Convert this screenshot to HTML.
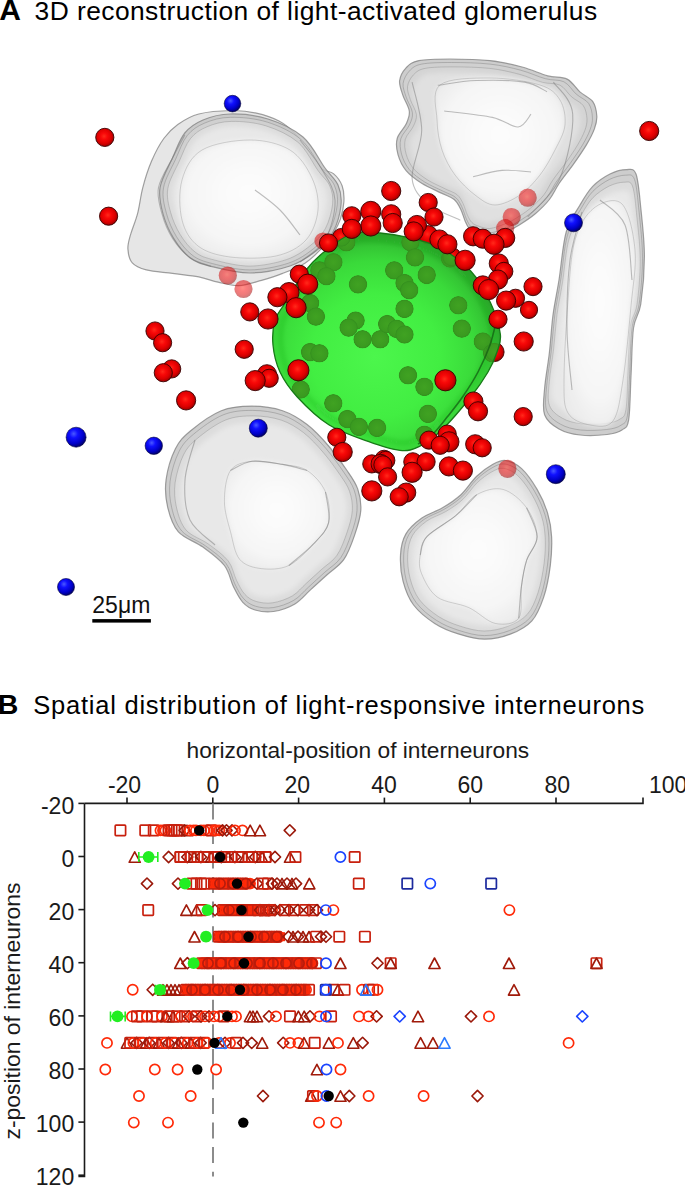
<!DOCTYPE html>
<html><head><meta charset="utf-8"><style>
html,body{margin:0;padding:0;background:#fff;width:685px;height:1185px;overflow:hidden;font-family:"Liberation Sans",sans-serif}
</style></head><body>
<svg width="685" height="1185" viewBox="0 0 685 1185" style="position:absolute;left:0;top:0">
<g font-family="Liberation Sans, sans-serif" fill="#000">
<text x="-0.8" y="19.7" font-size="30" font-weight="bold">A</text>
<text x="34.6" y="19.8" font-size="26.4" letter-spacing="0.43">3D reconstruction of light-activated glomerulus</text>
<text x="-2.2" y="713.9" font-size="28.5" font-weight="bold">B</text>
<text x="33.3" y="713.6" font-size="25.5" letter-spacing="0.765">Spatial distribution of light-responsive interneurons</text>
</g>
<defs>
<radialGradient id="rs" cx="0.46" cy="0.44" r="0.6"><stop offset="0" stop-color="#ff2a1a"/><stop offset="0.3" stop-color="#f80808"/><stop offset="0.65" stop-color="#dc0000"/><stop offset="0.85" stop-color="#b00000"/><stop offset="1" stop-color="#700000"/></radialGradient>
<radialGradient id="bs" cx="0.38" cy="0.33" r="0.7"><stop offset="0" stop-color="#4a5aff"/><stop offset="0.3" stop-color="#1010ff"/><stop offset="0.7" stop-color="#0000c8"/><stop offset="1" stop-color="#000060"/></radialGradient>
<radialGradient id="gs" cx="0.5" cy="0.5" r="0.5"><stop offset="0" stop-color="#40a222"/><stop offset="0.8" stop-color="#3a9a20"/><stop offset="0.95" stop-color="#34901e"/><stop offset="1" stop-color="#34901e" stop-opacity="0.3"/></radialGradient>
<radialGradient id="gg" cx="0.45" cy="0.57" r="0.56"><stop offset="0" stop-color="#4cf64c"/><stop offset="0.5" stop-color="#42ee42"/><stop offset="0.78" stop-color="#3ada3a"/><stop offset="0.9" stop-color="#34c634"/><stop offset="1" stop-color="#2aa42a"/></radialGradient>
<radialGradient id="wg" cx="0.5" cy="0.5" r="0.55"><stop offset="0" stop-color="#fbfbfb"/><stop offset="0.6" stop-color="#f2f2f2"/><stop offset="0.82" stop-color="#e0e0e0"/><stop offset="0.95" stop-color="#c4c4c4"/><stop offset="1" stop-color="#b8b8b8"/></radialGradient>
<radialGradient id="wg2" cx="0.5" cy="0.45" r="0.6"><stop offset="0" stop-color="#fdfdfd"/><stop offset="0.7" stop-color="#f6f6f6"/><stop offset="1" stop-color="#ececec"/></radialGradient>
<filter id="blur3" x="-20%" y="-20%" width="140%" height="140%"><feGaussianBlur stdDeviation="2.5"/></filter>
<filter id="soft" x="-10%" y="-10%" width="120%" height="120%"><feGaussianBlur stdDeviation="0.6"/></filter>
</defs>
<path d="M232.0 110.5C241.6 110.3 248.5 111.3 256.3 113.1C264.1 114.8 272.6 117.6 279.0 121.0C285.4 124.4 290.1 128.6 294.8 133.3C299.5 138.0 302.7 143.2 307.1 149.0C311.5 154.8 316.7 164.2 321.1 168.3C325.5 172.4 329.9 170.7 333.4 173.6C336.9 176.5 340.4 181.1 342.1 185.8C343.9 190.5 344.2 196.1 343.9 201.6C343.6 207.1 342.1 213.8 340.4 219.1C338.6 224.3 336.6 228.1 333.4 233.1C330.2 238.1 325.8 243.9 321.1 248.9C316.4 253.9 311.7 258.8 305.3 262.9C298.9 267.0 289.9 270.5 282.6 273.4C275.3 276.3 268.8 278.3 261.5 280.4C254.2 282.4 246.0 285.4 238.8 285.7C231.6 286.0 224.8 283.7 218.1 282.2C211.4 280.7 206.4 278.4 198.8 276.9C191.2 275.4 181.3 274.6 172.6 273.4C163.8 272.2 153.0 271.6 146.3 269.9C139.6 268.1 135.4 266.4 132.3 262.9C129.2 259.4 128.2 253.6 127.9 248.9C127.6 244.2 128.9 240.7 130.5 234.9C132.1 229.1 135.4 221.8 137.5 213.9C139.6 206.0 140.5 196.4 142.8 187.6C145.1 178.8 148.0 169.5 151.5 161.3C155.0 153.1 159.4 144.6 163.8 138.5C168.2 132.4 172.0 128.6 177.8 124.5C183.6 120.4 189.8 116.3 198.8 114.0C207.8 111.7 222.4 110.7 232.0 110.5Z" fill="#e2e2e2" fill-opacity="0.85" stroke="#7a7a7a" stroke-opacity="0.7" stroke-width="1.2" filter="url(#soft)"/>
<path d="M184.8 133.0C179.7 139.3 176.7 148.7 172.6 157.8C168.5 166.9 161.6 178.2 160.0 187.6C158.4 196.9 160.7 205.4 163.0 213.9C165.3 222.4 169.1 231.1 173.6 238.4C178.1 245.7 183.8 253.0 190.0 257.7C196.2 262.4 201.1 263.8 211.1 266.4C221.1 268.9 236.8 273.1 250.0 273.0C263.1 272.9 279.0 269.7 290.0 266.0C301.0 262.3 308.8 256.7 316.0 251.0C323.2 245.3 328.8 239.7 333.0 232.0C337.2 224.3 340.2 212.8 341.0 205.0C341.8 197.2 340.7 191.2 338.0 185.0C335.3 178.8 330.8 176.0 325.0 168.0C319.2 160.0 312.5 145.2 303.0 137.0C293.5 128.8 280.2 122.8 268.0 119.0C255.8 115.2 240.8 113.8 230.0 114.0C219.2 114.2 210.5 116.8 203.0 120.0C195.5 123.2 189.9 126.7 184.8 133.0Z" fill="#c4c4c4" fill-opacity="0.85" stroke="#7a7a7a" stroke-opacity="0.7" stroke-width="1.2" filter="url(#soft)"/>
<path d="M187.3 135.5C182.4 141.6 179.6 150.6 175.6 159.3C171.6 168.1 165.0 179.0 163.5 187.9C162.0 196.9 164.2 205.0 166.4 213.2C168.5 221.3 172.2 229.7 176.5 236.7C180.9 243.7 186.3 250.7 192.3 255.2C198.3 259.7 202.9 261.1 212.5 263.6C222.1 266.0 237.3 270.0 249.9 269.9C262.5 269.8 277.7 266.7 288.3 263.2C298.9 259.7 306.4 254.2 313.3 248.8C320.1 243.4 325.6 237.9 329.6 230.6C333.6 223.2 336.5 212.2 337.3 204.6C338.1 197.1 336.9 191.4 334.4 185.4C331.8 179.5 327.5 176.8 321.9 169.1C316.3 161.4 309.9 147.2 300.8 139.4C291.7 131.5 278.9 125.8 267.2 122.1C255.5 118.4 241.1 117.1 230.7 117.3C220.3 117.4 212.0 120.0 204.8 123.0C197.5 126.1 192.2 129.5 187.3 135.5Z" fill="#d0d0d0" stroke="#888" stroke-opacity="0.5" stroke-width="1"/>
<path d="M190.4 138.7C185.8 144.4 183.1 152.9 179.3 161.2C175.6 169.5 169.3 179.8 167.9 188.3C166.4 196.8 168.5 204.6 170.6 212.3C172.7 220.0 176.1 227.9 180.2 234.6C184.3 241.2 189.5 247.9 195.2 252.1C200.8 256.4 205.3 257.7 214.4 260.0C223.5 262.4 237.8 266.1 249.8 266.1C261.7 266.0 276.2 263.0 286.2 259.7C296.2 256.3 303.3 251.2 309.8 246.0C316.3 240.9 321.5 235.7 325.3 228.7C329.1 221.8 331.8 211.3 332.6 204.2C333.3 197.0 332.3 191.6 329.8 186.0C327.4 180.4 323.3 177.8 318.0 170.5C312.7 163.2 306.6 149.7 298.0 142.3C289.3 134.9 277.2 129.4 266.1 125.9C255.1 122.4 241.4 121.2 231.6 121.4C221.7 121.5 213.8 123.9 207.0 126.8C200.1 129.7 195.0 132.9 190.4 138.7Z" fill="#dcdcdc" stroke="#8a8a8a" stroke-opacity="0.4" stroke-width="1"/>
<path d="M194.2 142.4C189.9 147.8 187.3 155.8 183.8 163.5C180.3 171.2 174.5 180.9 173.1 188.8C171.7 196.8 173.7 204.0 175.7 211.2C177.6 218.4 180.8 225.8 184.7 232.0C188.5 238.2 193.3 244.5 198.6 248.4C203.9 252.4 208.0 253.6 216.5 255.8C225.0 258.0 238.4 261.5 249.6 261.4C260.8 261.4 274.3 258.6 283.6 255.5C293.0 252.4 299.6 247.5 305.7 242.7C311.8 237.9 316.6 233.1 320.2 226.6C323.7 220.1 326.2 210.3 327.0 203.6C327.7 197.0 326.7 191.9 324.4 186.6C322.1 181.4 318.3 179.0 313.4 172.2C308.4 165.4 302.7 152.8 294.7 145.8C286.6 138.9 275.2 133.8 264.9 130.5C254.6 127.3 241.8 126.1 232.6 126.3C223.4 126.4 216.1 128.7 209.7 131.4C203.2 134.1 198.5 137.1 194.2 142.4Z" fill="#e8e8e8" filter="url(#blur3)"/>
<path d="M202.0 150.0C213.3 143.3 235.3 140.0 250.0 140.0C264.7 140.0 279.7 143.7 290.0 150.0C300.3 156.3 307.3 168.0 312.0 178.0C316.7 188.0 319.0 199.7 318.0 210.0C317.0 220.3 313.0 232.3 306.0 240.0C299.0 247.7 288.7 253.2 276.0 256.0C263.3 258.8 243.0 258.7 230.0 257.0C217.0 255.3 206.0 252.2 198.0 246.0C190.0 239.8 184.7 231.0 182.0 220.0C179.3 209.0 178.7 191.7 182.0 180.0C185.3 168.3 190.7 156.7 202.0 150.0Z" fill="url(#wg2)" filter="url(#blur3)"/>
<path d="M202.0 150.0C213.3 143.3 235.3 140.0 250.0 140.0C264.7 140.0 279.7 143.7 290.0 150.0C300.3 156.3 307.3 168.0 312.0 178.0C316.7 188.0 319.0 199.7 318.0 210.0C317.0 220.3 313.0 232.3 306.0 240.0C299.0 247.7 288.7 253.2 276.0 256.0C263.3 258.8 243.0 258.7 230.0 257.0C217.0 255.3 206.0 252.2 198.0 246.0C190.0 239.8 184.7 231.0 182.0 220.0C179.3 209.0 178.7 191.7 182.0 180.0C185.3 168.3 190.7 156.7 202.0 150.0Z" fill="none" stroke="#8a8a8a" stroke-opacity="0.35" stroke-width="1"/>
<path d="M418.9 60.6C426.2 59.1 438.1 59.0 450.0 59.0C461.9 59.0 478.0 59.3 490.0 60.6C502.0 61.9 512.5 64.5 522.1 67.0C531.7 69.5 540.3 73.9 547.8 75.9C555.3 77.9 561.8 76.4 567.1 79.1C572.5 81.8 575.6 88.2 579.9 91.9C584.2 95.7 590.0 97.6 592.8 101.6C595.6 105.6 596.5 111.5 596.8 116.0C597.1 120.5 596.1 124.1 594.4 128.9C592.7 133.7 589.9 139.0 586.4 144.9C582.9 150.8 578.0 157.8 573.5 164.2C569.0 170.6 563.1 177.6 559.1 183.5C555.1 189.4 553.4 194.4 549.4 199.5C545.4 204.6 540.1 209.7 535.0 214.0C529.9 218.3 523.7 222.2 518.9 225.2C514.1 228.1 510.9 229.8 506.1 231.7C501.3 233.6 494.7 236.1 490.0 236.5C485.3 236.9 481.3 235.1 478.0 234.0C474.7 232.9 472.4 232.0 470.3 230.0C468.2 228.0 467.1 225.5 465.5 222.0C463.9 218.5 462.6 212.9 460.7 209.2C458.8 205.4 457.4 202.2 454.2 199.5C451.0 196.8 446.8 195.8 441.4 193.1C436.0 190.4 428.0 187.2 422.1 183.5C416.2 179.8 410.1 175.4 406.1 170.6C402.1 165.8 399.5 159.9 398.0 154.6C396.5 149.2 395.8 143.6 397.2 138.5C398.6 133.4 404.1 128.7 406.1 124.1C408.1 119.5 409.9 116.0 409.3 111.2C408.8 106.4 404.4 100.2 402.8 95.1C401.2 90.0 399.1 85.2 399.6 80.7C400.2 76.2 402.9 71.1 406.1 67.8C409.3 64.5 411.6 62.1 418.9 60.6Z" fill="#c4c4c4" fill-opacity="0.85" stroke="#7a7a7a" stroke-opacity="0.7" stroke-width="1.2" filter="url(#soft)"/>
<path d="M421.7 64.1C428.7 62.7 440.1 62.5 451.5 62.5C462.9 62.5 478.4 62.8 489.9 64.1C501.4 65.3 511.5 67.8 520.7 70.2C530.0 72.7 538.2 76.8 545.4 78.7C552.6 80.7 558.8 79.3 563.9 81.8C569.1 84.4 572.1 90.5 576.2 94.1C580.3 97.7 585.9 99.6 588.6 103.4C591.3 107.3 592.2 112.9 592.4 117.2C592.7 121.6 591.8 125.0 590.1 129.6C588.5 134.3 585.8 139.3 582.5 145.0C579.1 150.6 574.4 157.3 570.1 163.5C565.7 169.7 560.1 176.4 556.2 182.0C552.4 187.7 550.8 192.5 546.9 197.4C543.1 202.3 538.0 207.2 533.1 211.3C528.2 215.4 522.3 219.2 517.7 222.1C513.0 224.9 510.0 226.5 505.4 228.3C500.7 230.1 494.4 232.6 489.9 232.9C485.4 233.3 481.5 231.6 478.4 230.5C475.2 229.5 473.0 228.6 471.0 226.7C469.0 224.8 467.9 222.3 466.4 219.0C464.9 215.7 463.6 210.3 461.8 206.7C460.0 203.1 458.6 200.0 455.5 197.4C452.5 194.8 448.4 193.8 443.3 191.3C438.1 188.7 430.4 185.6 424.7 182.0C419.1 178.4 413.2 174.3 409.4 169.7C405.5 165.0 403.0 159.4 401.6 154.3C400.2 149.2 399.5 143.7 400.8 138.8C402.1 134.0 407.4 129.4 409.4 125.0C411.3 120.7 413.0 117.3 412.4 112.6C411.9 108.0 407.7 102.1 406.2 97.2C404.6 92.3 402.6 87.7 403.1 83.4C403.7 79.0 406.3 74.2 409.4 71.0C412.5 67.8 414.6 65.5 421.7 64.1Z" fill="#d0d0d0" stroke="#888" stroke-opacity="0.5" stroke-width="1"/>
<path d="M425.1 68.4C431.8 67.0 442.6 66.9 453.4 66.9C464.2 66.9 478.9 67.2 489.8 68.4C500.7 69.6 510.2 71.9 519.0 74.2C527.8 76.5 535.6 80.5 542.4 82.3C549.2 84.1 555.1 82.8 560.0 85.2C564.8 87.6 567.7 93.5 571.6 96.9C575.5 100.3 580.8 102.0 583.3 105.7C585.9 109.3 586.7 114.7 587.0 118.8C587.2 122.9 586.4 126.2 584.8 130.5C583.2 134.9 580.7 139.7 577.5 145.1C574.4 150.5 569.9 156.8 565.8 162.7C561.6 168.5 556.3 174.9 552.7 180.2C549.0 185.6 547.5 190.2 543.9 194.8C540.2 199.4 535.4 204.1 530.7 208.0C526.1 211.9 520.5 215.5 516.1 218.2C511.7 220.9 508.8 222.4 504.4 224.1C500.1 225.8 494.1 228.1 489.8 228.5C485.5 228.8 481.9 227.2 478.9 226.2C475.9 225.2 473.8 224.4 471.9 222.5C470.0 220.7 469.0 218.4 467.5 215.3C466.0 212.1 464.8 207.0 463.1 203.6C461.4 200.2 460.1 197.2 457.2 194.8C454.3 192.3 450.4 191.4 445.6 189.0C440.7 186.5 433.4 183.6 428.0 180.2C422.7 176.8 417.1 172.9 413.4 168.5C409.8 164.1 407.4 158.8 406.1 153.9C404.7 149.1 404.1 143.9 405.3 139.3C406.6 134.6 411.6 130.3 413.4 126.2C415.3 122.0 416.9 118.8 416.4 114.4C415.9 110.0 411.9 104.4 410.4 99.8C409.0 95.2 407.0 90.8 407.5 86.7C408.0 82.5 410.5 78.0 413.4 74.9C416.4 71.9 418.4 69.7 425.1 68.4Z" fill="#d4d4d4" stroke="#8a8a8a" stroke-opacity="0.4" stroke-width="1"/>
<path d="M429.2 73.6C435.4 72.3 445.6 72.2 455.7 72.2C465.7 72.2 479.4 72.4 489.7 73.6C499.9 74.7 508.8 76.8 516.9 79.0C525.1 81.2 532.4 84.9 538.8 86.6C545.2 88.3 550.6 87.0 555.2 89.3C559.7 91.6 562.4 97.0 566.1 100.2C569.7 103.4 574.6 105.0 577.0 108.4C579.4 111.8 580.2 116.8 580.4 120.7C580.7 124.5 579.9 127.5 578.4 131.6C576.9 135.7 574.6 140.2 571.6 145.2C568.6 150.2 564.5 156.2 560.6 161.6C556.8 167.1 551.8 173.0 548.4 178.0C545.0 183.0 543.6 187.3 540.2 191.6C536.7 196.0 532.2 200.3 527.9 204.0C523.6 207.6 518.3 211.0 514.2 213.5C510.1 216.0 507.4 217.4 503.3 219.0C499.3 220.6 493.6 222.8 489.7 223.1C485.7 223.4 482.3 221.9 479.5 221.0C476.7 220.0 474.7 219.3 472.9 217.6C471.1 215.9 470.2 213.7 468.8 210.8C467.5 207.8 466.4 203.1 464.8 199.9C463.2 196.7 462.0 193.9 459.2 191.6C456.5 189.4 452.9 188.5 448.4 186.2C443.8 183.9 436.9 181.2 431.9 178.0C426.9 174.9 421.8 171.2 418.3 167.1C414.9 163.0 412.7 158.0 411.5 153.5C410.2 148.9 409.6 144.1 410.8 139.8C411.9 135.5 416.6 131.4 418.3 127.5C420.1 123.7 421.5 120.7 421.1 116.6C420.6 112.5 416.9 107.2 415.5 102.9C414.2 98.6 412.4 94.5 412.8 90.7C413.3 86.8 415.6 82.5 418.3 79.7C421.1 76.8 423.0 74.8 429.2 73.6Z" fill="#e0e0e0" filter="url(#blur3)"/>
<path d="M440.0 85.0C448.8 78.0 473.3 78.0 490.0 78.0C506.7 78.0 528.3 81.3 540.0 85.0C551.7 88.7 555.8 93.3 560.0 100.0C564.2 106.7 565.8 116.7 565.0 125.0C564.2 133.3 559.2 141.7 555.0 150.0C550.8 158.3 545.8 167.5 540.0 175.0C534.2 182.5 527.5 190.0 520.0 195.0C512.5 200.0 502.5 205.0 495.0 205.0C487.5 205.0 481.7 200.0 475.0 195.0C468.3 190.0 460.5 182.5 455.0 175.0C449.5 167.5 445.0 159.2 442.0 150.0C439.0 140.8 437.3 130.8 437.0 120.0C436.7 109.2 431.2 92.0 440.0 85.0Z" fill="url(#wg2)" filter="url(#blur3)"/>
<path d="M440.0 85.0C448.8 78.0 473.3 78.0 490.0 78.0C506.7 78.0 528.3 81.3 540.0 85.0C551.7 88.7 555.8 93.3 560.0 100.0C564.2 106.7 565.8 116.7 565.0 125.0C564.2 133.3 559.2 141.7 555.0 150.0C550.8 158.3 545.8 167.5 540.0 175.0C534.2 182.5 527.5 190.0 520.0 195.0C512.5 200.0 502.5 205.0 495.0 205.0C487.5 205.0 481.7 200.0 475.0 195.0C468.3 190.0 460.5 182.5 455.0 175.0C449.5 167.5 445.0 159.2 442.0 150.0C439.0 140.8 437.3 130.8 437.0 120.0C436.7 109.2 431.2 92.0 440.0 85.0Z" fill="none" stroke="#8a8a8a" stroke-opacity="0.35" stroke-width="1"/>
<path d="M626.5 169.6C630.8 169.6 633.6 167.6 636.0 174.0C638.4 180.4 639.4 194.3 640.8 208.0C642.2 221.7 644.4 240.0 644.4 256.0C644.4 272.0 642.6 292.0 640.8 304.0C639.0 316.0 635.1 316.0 633.5 328.0C631.9 340.0 631.8 360.7 631.0 376.0C630.2 391.3 630.2 410.6 628.7 419.6C627.2 428.6 625.6 427.5 622.0 430.0C618.4 432.5 614.0 433.7 607.0 434.5C600.0 435.3 588.0 435.9 580.0 435.0C572.0 434.1 564.9 432.4 559.0 429.0C553.1 425.6 547.0 421.4 544.6 414.7C542.2 407.9 543.8 398.9 544.6 388.5C545.4 378.1 548.0 364.8 549.4 352.5C550.8 340.2 551.4 327.1 553.0 315.0C554.6 302.9 556.8 293.8 559.0 280.0C561.2 266.2 562.7 244.5 566.2 232.0C569.7 219.5 575.6 212.6 580.0 205.0C584.4 197.4 587.7 191.6 592.7 186.4C597.7 181.2 604.4 176.8 610.0 174.0C615.6 171.2 622.2 169.6 626.5 169.6Z" fill="#c4c4c4" fill-opacity="0.85" stroke="#7a7a7a" stroke-opacity="0.7" stroke-width="1.2" filter="url(#soft)"/>
<path d="M625.3 175.2C629.5 175.2 632.2 173.3 634.5 179.4C636.8 185.6 637.7 199.0 639.1 212.1C640.4 225.2 642.5 242.8 642.5 258.2C642.5 273.5 640.8 292.7 639.1 304.2C637.3 315.8 633.6 315.8 632.1 327.3C630.5 338.8 630.4 358.7 629.7 373.4C628.9 388.0 628.9 406.6 627.5 415.2C626.0 423.9 624.5 422.8 621.0 425.2C617.6 427.6 613.3 428.7 606.6 429.5C599.9 430.3 588.4 430.9 580.7 430.0C573.0 429.1 566.2 427.5 560.5 424.2C554.9 421.0 549.0 417.0 546.7 410.5C544.4 404.0 546.0 395.3 546.7 385.4C547.5 375.4 550.0 362.6 551.3 350.8C552.7 339.0 553.2 326.4 554.8 314.8C556.3 303.2 558.4 294.5 560.5 281.2C562.7 267.9 564.1 247.1 567.5 235.1C570.8 223.1 576.5 216.5 580.7 209.2C584.9 201.9 588.1 196.3 592.9 191.3C597.7 186.4 604.1 182.1 609.5 179.4C614.9 176.8 621.2 175.2 625.3 175.2Z" fill="#d0d0d0" stroke="#888" stroke-opacity="0.5" stroke-width="1"/>
<path d="M623.9 182.2C627.8 182.2 630.4 180.4 632.5 186.2C634.7 192.1 635.6 204.8 636.9 217.2C638.2 229.6 640.2 246.3 640.2 260.9C640.2 275.4 638.6 293.6 636.9 304.5C635.3 315.5 631.8 315.5 630.3 326.4C628.8 337.3 628.7 356.2 628.0 370.1C627.3 384.0 627.3 401.6 625.9 409.7C624.5 417.9 623.1 416.9 619.8 419.2C616.5 421.5 612.5 422.5 606.2 423.3C599.8 424.1 588.9 424.6 581.6 423.8C574.3 422.9 567.8 421.4 562.5 418.3C557.1 415.2 551.6 411.4 549.4 405.3C547.2 399.1 548.6 390.9 549.4 381.4C550.1 372.0 552.5 359.8 553.7 348.7C555.0 337.5 555.6 325.6 557.0 314.6C558.5 303.6 560.5 295.3 562.5 282.7C564.5 270.1 565.8 250.4 569.0 239.0C572.2 227.7 577.6 221.4 581.6 214.5C585.6 207.5 588.6 202.2 593.1 197.5C597.7 192.8 603.8 188.8 608.9 186.2C614.0 183.7 620.0 182.2 623.9 182.2Z" fill="#dcdcdc" stroke="#8a8a8a" stroke-opacity="0.4" stroke-width="1"/>
<path d="M622.2 190.7C625.8 190.7 628.2 189.0 630.2 194.4C632.3 199.9 633.1 211.7 634.3 223.3C635.5 234.9 637.4 250.5 637.4 264.1C637.4 277.7 635.9 294.7 634.3 304.9C632.8 315.1 629.5 315.1 628.1 325.3C626.7 335.5 626.7 353.1 626.0 366.1C625.3 379.1 625.3 395.5 624.0 403.2C622.8 410.8 621.4 409.9 618.3 412.0C615.3 414.1 611.5 415.1 605.6 415.8C599.6 416.5 589.4 417.0 582.6 416.3C575.8 415.5 569.8 414.0 564.8 411.2C559.8 408.3 554.6 404.7 552.5 399.0C550.5 393.3 551.9 385.5 552.5 376.7C553.2 367.9 555.4 356.6 556.6 346.1C557.8 335.7 558.3 324.5 559.7 314.3C561.0 304.0 562.9 296.3 564.8 284.5C566.7 272.8 567.9 254.3 570.9 243.7C573.9 233.1 578.9 227.2 582.6 220.8C586.4 214.3 589.2 209.3 593.4 205.0C597.7 200.6 603.3 196.8 608.1 194.4C612.9 192.0 618.5 190.7 622.2 190.7Z" fill="#e8e8e8" filter="url(#blur3)"/>
<path d="M594.0 208.0C601.8 202.0 615.2 197.0 622.0 204.0C628.8 211.0 633.5 233.0 635.0 250.0C636.5 267.0 633.0 284.3 631.0 306.0C629.0 327.7 626.0 360.8 623.0 380.0C620.0 399.2 618.5 413.5 613.0 421.0C607.5 428.5 597.5 426.3 590.0 425.0C582.5 423.7 572.3 420.5 568.0 413.0C563.7 405.5 564.0 398.8 564.0 380.0C564.0 361.2 566.2 323.3 568.0 300.0C569.8 276.7 570.7 255.3 575.0 240.0C579.3 224.7 586.2 214.0 594.0 208.0Z" fill="url(#wg2)" filter="url(#blur3)"/>
<path d="M594.0 208.0C601.8 202.0 615.2 197.0 622.0 204.0C628.8 211.0 633.5 233.0 635.0 250.0C636.5 267.0 633.0 284.3 631.0 306.0C629.0 327.7 626.0 360.8 623.0 380.0C620.0 399.2 618.5 413.5 613.0 421.0C607.5 428.5 597.5 426.3 590.0 425.0C582.5 423.7 572.3 420.5 568.0 413.0C563.7 405.5 564.0 398.8 564.0 380.0C564.0 361.2 566.2 323.3 568.0 300.0C569.8 276.7 570.7 255.3 575.0 240.0C579.3 224.7 586.2 214.0 594.0 208.0Z" fill="none" stroke="#8a8a8a" stroke-opacity="0.35" stroke-width="1"/>
<path d="M190.7 430.7C198.4 424.3 211.1 414.8 221.3 410.7C231.5 406.6 241.8 406.1 252.0 406.1C262.2 406.1 273.4 407.6 282.6 410.7C291.8 413.8 299.4 418.6 307.1 424.5C314.8 430.4 322.0 438.3 328.6 446.0C335.2 453.7 342.1 463.4 347.0 470.5C351.9 477.6 355.4 482.2 357.7 488.9C360.0 495.5 361.3 502.7 360.8 510.4C360.3 518.1 357.5 526.7 354.7 534.9C351.9 543.1 348.5 552.8 343.9 559.4C339.3 566.0 332.7 569.6 327.1 574.7C321.5 579.8 315.6 585.2 310.2 590.1C304.8 595.0 301.0 600.3 294.9 603.9C288.8 607.5 280.0 610.5 273.4 611.5C266.8 612.5 260.1 611.5 255.0 610.0C249.9 608.5 246.4 606.1 242.8 602.3C239.2 598.5 236.7 593.1 233.6 587.0C230.5 580.9 229.5 572.1 224.4 565.5C219.3 558.9 210.6 552.7 202.9 547.1C195.2 541.5 184.3 538.4 178.4 531.8C172.5 525.2 169.8 516.0 167.7 507.3C165.6 498.6 164.8 489.4 166.1 479.7C167.4 470.0 171.2 457.2 175.3 449.0C179.4 440.8 183.0 437.1 190.7 430.7Z" fill="#c4c4c4" fill-opacity="0.85" stroke="#7a7a7a" stroke-opacity="0.7" stroke-width="1.2" filter="url(#soft)"/>
<path d="M193.7 434.1C201.1 427.9 213.3 418.8 223.1 414.9C232.9 410.9 242.8 410.4 252.6 410.4C262.4 410.4 273.1 411.9 282.0 414.9C290.8 417.8 298.1 422.5 305.5 428.1C312.8 433.8 319.7 441.4 326.1 448.7C332.5 456.1 339.1 465.4 343.8 472.3C348.4 479.1 351.8 483.5 354.1 489.9C356.3 496.3 357.5 503.2 357.0 510.6C356.6 517.9 353.9 526.3 351.2 534.1C348.5 541.9 345.2 551.2 340.8 557.6C336.4 564.0 330.1 567.4 324.7 572.3C319.3 577.2 313.6 582.4 308.5 587.1C303.3 591.8 299.7 596.9 293.8 600.3C287.9 603.8 279.5 606.7 273.1 607.6C266.7 608.6 260.4 607.7 255.5 606.2C250.6 604.7 247.2 602.5 243.8 598.8C240.3 595.1 237.9 590.0 234.9 584.1C232.0 578.2 231.0 569.9 226.1 563.5C221.2 557.1 212.8 551.2 205.4 545.8C198.1 540.4 187.6 537.5 181.9 531.1C176.3 524.7 173.6 515.9 171.7 507.6C169.7 499.3 168.9 490.4 170.1 481.1C171.3 471.8 175.0 459.5 179.0 451.6C182.9 443.8 186.4 440.2 193.7 434.1Z" fill="#d0d0d0" stroke="#888" stroke-opacity="0.5" stroke-width="1"/>
<path d="M197.5 438.3C204.5 432.5 216.1 423.8 225.4 420.1C234.7 416.3 244.0 415.9 253.3 415.9C262.6 415.9 272.8 417.3 281.2 420.1C289.5 422.9 296.5 427.3 303.5 432.6C310.4 438.0 317.0 445.2 323.0 452.2C329.1 459.2 335.3 468.0 339.8 474.5C344.2 481.0 347.4 485.2 349.5 491.2C351.6 497.3 352.8 503.8 352.3 510.8C351.9 517.8 349.3 525.6 346.8 533.1C344.2 540.5 341.1 549.3 336.9 555.4C332.8 561.4 326.8 564.6 321.7 569.3C316.5 574.0 311.2 578.9 306.3 583.3C301.4 587.7 297.9 592.6 292.4 595.9C286.8 599.1 278.8 601.9 272.8 602.8C266.7 603.7 260.7 602.8 256.0 601.4C251.4 600.0 248.2 597.9 244.9 594.4C241.7 590.9 239.4 586.1 236.6 580.5C233.8 574.9 232.9 567.0 228.2 560.9C223.5 554.9 215.6 549.3 208.6 544.2C201.7 539.1 191.7 536.3 186.3 530.3C181.0 524.2 178.5 515.9 176.6 508.0C174.7 500.1 174.0 491.7 175.1 482.8C176.3 474.0 179.8 462.3 183.5 454.9C187.2 447.5 190.6 444.1 197.5 438.3Z" fill="#dcdcdc" stroke="#8a8a8a" stroke-opacity="0.4" stroke-width="1"/>
<path d="M202.1 443.3C208.6 437.9 219.4 429.8 228.1 426.3C236.8 422.8 245.5 422.4 254.2 422.4C262.9 422.4 272.4 423.7 280.2 426.3C288.0 428.9 294.5 433.0 301.0 438.0C307.5 443.0 313.6 449.8 319.3 456.3C325.0 462.8 330.8 471.1 334.9 477.1C339.1 483.2 342.1 487.1 344.0 492.8C346.0 498.4 347.1 504.5 346.7 511.0C346.2 517.6 343.9 524.9 341.5 531.9C339.1 538.8 336.2 547.1 332.3 552.7C328.4 558.3 322.8 561.4 318.0 565.7C313.2 570.0 308.2 574.7 303.7 578.8C299.1 582.9 295.9 587.5 290.7 590.5C285.4 593.6 278.0 596.1 272.4 597.0C266.7 597.8 261.1 597.0 256.7 595.7C252.4 594.4 249.4 592.4 246.4 589.2C243.3 585.9 241.2 581.4 238.5 576.2C235.9 570.9 235.1 563.5 230.7 557.9C226.4 552.2 219.0 547.0 212.5 542.2C205.9 537.5 196.6 534.9 191.6 529.2C186.6 523.6 184.3 515.8 182.5 508.4C180.8 501.0 180.1 493.2 181.2 484.9C182.3 476.7 185.5 465.8 189.0 458.9C192.5 451.9 195.6 448.7 202.1 443.3Z" fill="#e8e8e8" filter="url(#blur3)"/>
<path d="M230.5 470.5C235.1 463.9 243.3 462.3 252.0 461.3C260.7 460.3 273.4 462.9 282.6 464.4C291.8 465.9 300.0 465.9 307.1 470.5C314.2 475.1 321.9 483.3 325.5 492.0C329.1 500.7 330.6 513.9 328.6 522.6C326.6 531.3 319.9 537.0 313.3 544.1C306.7 551.2 297.5 561.4 288.8 565.5C280.1 569.6 269.4 569.6 261.2 568.6C253.0 567.6 244.8 565.5 239.7 559.4C234.6 553.3 233.1 541.5 230.5 531.8C227.9 522.1 224.4 511.4 224.4 501.2C224.4 491.0 225.9 477.1 230.5 470.5Z" fill="url(#wg2)" filter="url(#blur3)"/>
<path d="M230.5 470.5C235.1 463.9 243.3 462.3 252.0 461.3C260.7 460.3 273.4 462.9 282.6 464.4C291.8 465.9 300.0 465.9 307.1 470.5C314.2 475.1 321.9 483.3 325.5 492.0C329.1 500.7 330.6 513.9 328.6 522.6C326.6 531.3 319.9 537.0 313.3 544.1C306.7 551.2 297.5 561.4 288.8 565.5C280.1 569.6 269.4 569.6 261.2 568.6C253.0 567.6 244.8 565.5 239.7 559.4C234.6 553.3 233.1 541.5 230.5 531.8C227.9 522.1 224.4 511.4 224.4 501.2C224.4 491.0 225.9 477.1 230.5 470.5Z" fill="none" stroke="#8a8a8a" stroke-opacity="0.35" stroke-width="1"/>
<path d="M505.6 460.5C510.4 461.1 516.1 463.6 521.4 468.4C526.6 473.2 532.7 481.9 537.1 489.4C541.5 496.8 545.2 505.2 547.6 513.1C550.0 521.0 551.2 528.0 551.6 536.7C552.0 545.5 551.6 555.5 550.3 565.6C549.0 575.7 546.8 587.9 543.7 597.1C540.6 606.3 537.4 614.7 531.9 620.8C526.4 626.9 518.8 630.8 510.9 633.9C503.0 637.0 493.4 639.2 484.6 639.2C475.8 639.2 466.6 636.5 458.3 633.9C450.0 631.3 442.1 628.2 434.7 623.4C427.2 618.6 418.9 612.0 413.6 605.0C408.3 598.0 405.3 589.7 403.1 581.4C400.9 573.1 400.1 563.0 400.5 555.1C400.9 547.2 402.3 540.2 405.8 534.1C409.3 528.0 415.4 522.7 421.5 518.3C427.6 513.9 435.9 511.7 442.5 507.8C449.1 503.9 455.2 499.9 460.9 494.7C466.6 489.4 471.4 481.3 476.7 476.3C482.0 471.3 487.7 467.1 492.5 464.5C497.3 461.9 500.8 459.9 505.6 460.5Z" fill="#c4c4c4" fill-opacity="0.85" stroke="#7a7a7a" stroke-opacity="0.7" stroke-width="1.2" filter="url(#soft)"/>
<path d="M504.6 464.0C509.2 464.6 514.7 467.0 519.8 471.6C524.8 476.2 530.7 484.6 534.8 491.8C539.0 498.9 542.6 506.9 544.9 514.5C547.2 522.1 548.3 528.8 548.8 537.2C549.2 545.6 548.8 555.3 547.5 564.9C546.3 574.6 544.1 586.3 541.2 595.2C538.2 604.0 535.1 612.0 529.9 617.9C524.6 623.8 517.3 627.5 509.7 630.5C502.1 633.4 492.9 635.6 484.4 635.6C476.0 635.6 467.2 633.0 459.2 630.5C451.2 628.0 443.7 625.0 436.5 620.4C429.4 615.8 421.3 609.5 416.3 602.7C411.2 596.0 408.3 588.1 406.2 580.1C404.1 572.1 403.3 562.4 403.7 554.8C404.1 547.3 405.4 540.6 408.8 534.7C412.2 528.8 418.0 523.7 423.9 519.5C429.7 515.3 437.7 513.2 444.0 509.4C450.3 505.7 456.2 501.9 461.7 496.9C467.2 491.8 471.8 484.0 476.9 479.2C481.9 474.4 487.4 470.4 492.0 467.9C496.7 465.3 500.0 463.4 504.6 464.0Z" fill="#d0d0d0" stroke="#888" stroke-opacity="0.5" stroke-width="1"/>
<path d="M503.4 468.4C507.7 469.0 513.0 471.2 517.7 475.6C522.5 480.0 528.1 487.9 532.0 494.7C536.0 501.5 539.4 509.1 541.6 516.3C543.8 523.5 544.8 529.8 545.2 537.8C545.6 545.7 545.2 554.9 544.0 564.1C542.8 573.2 540.8 584.4 538.0 592.7C535.2 601.1 532.3 608.7 527.3 614.3C522.3 619.9 515.4 623.4 508.2 626.2C501.0 629.0 492.2 631.0 484.2 631.0C476.3 631.0 467.9 628.6 460.3 626.2C452.7 623.8 445.6 621.0 438.8 616.7C432.1 612.3 424.4 606.3 419.6 599.9C414.8 593.5 412.1 586.0 410.1 578.4C408.1 570.9 407.3 561.7 407.7 554.5C408.1 547.3 409.4 541.0 412.5 535.4C415.7 529.8 421.3 525.0 426.8 521.0C432.4 517.0 440.0 515.0 445.9 511.5C451.9 507.9 457.5 504.3 462.7 499.5C467.9 494.8 472.3 487.4 477.1 482.8C481.9 478.2 487.1 474.5 491.4 472.1C495.8 469.7 499.0 467.8 503.4 468.4Z" fill="#dcdcdc" stroke="#8a8a8a" stroke-opacity="0.4" stroke-width="1"/>
<path d="M501.9 473.7C506.0 474.3 510.8 476.3 515.3 480.4C519.8 484.5 524.9 491.9 528.6 498.3C532.4 504.6 535.5 511.7 537.6 518.4C539.6 525.1 540.6 531.0 541.0 538.5C541.3 545.9 541.0 554.5 539.9 563.0C538.7 571.6 536.9 582.0 534.3 589.8C531.6 597.6 528.9 604.7 524.2 610.0C519.6 615.2 513.1 618.5 506.4 621.1C499.7 623.7 491.5 625.6 484.0 625.6C476.6 625.6 468.7 623.3 461.7 621.1C454.6 618.9 447.9 616.3 441.6 612.2C435.3 608.1 428.1 602.5 423.7 596.5C419.2 590.6 416.6 583.5 414.7 576.5C412.9 569.4 412.1 560.8 412.5 554.1C412.9 547.4 414.1 541.5 417.0 536.3C420.0 531.1 425.2 526.6 430.4 522.8C435.6 519.1 442.6 517.3 448.2 513.9C453.8 510.6 459.0 507.2 463.9 502.8C468.7 498.3 472.8 491.4 477.3 487.1C481.8 482.9 486.6 479.3 490.7 477.1C494.8 474.9 497.8 473.2 501.9 473.7Z" fill="#e8e8e8" filter="url(#blur3)"/>
<path d="M426.8 536.7C432.7 530.1 447.4 522.7 455.7 515.7C464.0 508.7 468.8 499.1 476.7 494.7C484.6 490.3 494.7 487.2 503.0 489.4C511.3 491.6 520.9 499.9 526.6 507.8C532.3 515.7 537.1 527.9 537.1 536.7C537.1 545.5 529.2 552.1 526.6 560.4C524.0 568.7 522.7 577.0 521.4 586.6C520.1 596.2 523.1 612.1 518.7 618.2C514.3 624.3 503.4 625.2 495.1 623.4C486.8 621.6 478.4 612.0 468.8 607.6C459.2 603.2 445.2 602.8 437.3 597.1C429.4 591.4 424.4 580.5 421.5 573.5C418.6 566.5 419.3 561.2 420.2 555.1C421.1 549.0 420.9 543.3 426.8 536.7Z" fill="url(#wg2)" filter="url(#blur3)"/>
<path d="M426.8 536.7C432.7 530.1 447.4 522.7 455.7 515.7C464.0 508.7 468.8 499.1 476.7 494.7C484.6 490.3 494.7 487.2 503.0 489.4C511.3 491.6 520.9 499.9 526.6 507.8C532.3 515.7 537.1 527.9 537.1 536.7C537.1 545.5 529.2 552.1 526.6 560.4C524.0 568.7 522.7 577.0 521.4 586.6C520.1 596.2 523.1 612.1 518.7 618.2C514.3 624.3 503.4 625.2 495.1 623.4C486.8 621.6 478.4 612.0 468.8 607.6C459.2 603.2 445.2 602.8 437.3 597.1C429.4 591.4 424.4 580.5 421.5 573.5C418.6 566.5 419.3 561.2 420.2 555.1C421.1 549.0 420.9 543.3 426.8 536.7Z" fill="none" stroke="#8a8a8a" stroke-opacity="0.35" stroke-width="1"/>
<path d="M437.8 85.3C444.2 84.5 461.9 81.0 476.3 80.5C490.8 80.0 512.7 80.2 524.5 82.1C536.3 84.0 543.2 90.1 547.0 91.7" fill="none" stroke="#707070" stroke-opacity="0.45" stroke-width="1.1"/>
<path d="M444.2 111.0C452.2 112.1 480.1 114.7 492.4 117.4C504.7 120.1 511.7 127.5 518.1 127.0C524.5 126.5 528.9 116.3 531.0 114.2" fill="none" stroke="#707070" stroke-opacity="0.45" stroke-width="1.1"/>
<path d="M473.1 176.8C477.9 175.7 492.4 171.2 502.0 170.4C511.6 169.6 526.2 171.7 531.0 172.0" fill="none" stroke="#707070" stroke-opacity="0.45" stroke-width="1.1"/>
<path d="M412.1 82.1C413.7 90.1 421.7 114.2 421.7 130.3C421.7 146.4 411.0 166.2 412.1 178.5C413.2 190.8 420.2 197.2 428.2 204.1C436.2 211.0 454.9 217.5 460.3 220.2" fill="none" stroke="#707070" stroke-opacity="0.45" stroke-width="1.1"/>
<path d="M553.4 82.1C556.6 87.4 571.6 98.1 572.7 114.2C573.8 130.3 567.3 161.4 559.8 178.5C552.3 195.6 533.1 210.6 527.7 217.0" fill="none" stroke="#707070" stroke-opacity="0.45" stroke-width="1.1"/>
<path d="M184.8 135.0C182.8 138.8 177.0 149.0 172.6 157.8C168.2 166.6 160.3 178.2 158.5 187.6C156.7 196.9 159.7 205.4 162.0 213.9C164.3 222.4 167.9 231.1 172.6 238.4C177.3 245.7 183.6 253.0 190.0 257.7C196.4 262.4 207.6 264.9 211.1 266.4" fill="none" stroke="#707070" stroke-opacity="0.45" stroke-width="1.1"/>
<path d="M300.0 140.0C303.5 144.7 315.2 158.0 321.0 168.0C326.8 178.0 334.3 188.0 335.0 200.0C335.7 212.0 330.8 229.7 325.0 240.0C319.2 250.3 304.2 258.3 300.0 262.0" fill="none" stroke="#707070" stroke-opacity="0.45" stroke-width="1.1"/>
<path d="M255.0 190.0C259.2 193.3 272.5 202.5 280.0 210.0C287.5 217.5 296.7 230.8 300.0 235.0" fill="none" stroke="#707070" stroke-opacity="0.45" stroke-width="1.1"/>
<path d="M230.5 470.5C234.1 469.0 243.3 462.3 252.0 461.3C260.7 460.3 273.4 462.9 282.6 464.4C291.8 465.9 303.0 469.5 307.1 470.5" fill="none" stroke="#707070" stroke-opacity="0.45" stroke-width="1.1"/>
<path d="M325.5 492.0C326.0 497.1 330.6 513.9 328.6 522.6C326.6 531.3 319.9 537.0 313.3 544.1C306.7 551.2 292.9 561.9 288.8 565.5" fill="none" stroke="#707070" stroke-opacity="0.45" stroke-width="1.1"/>
<path d="M195.0 440.0C193.3 446.7 185.8 466.7 185.0 480.0C184.2 493.3 185.0 509.2 190.0 520.0C195.0 530.8 210.8 540.8 215.0 545.0" fill="none" stroke="#707070" stroke-opacity="0.45" stroke-width="1.1"/>
<path d="M420.2 555.1C421.3 552.0 420.9 543.3 426.8 536.7C432.7 530.1 447.4 522.7 455.7 515.7C464.0 508.7 473.2 498.2 476.7 494.7" fill="none" stroke="#707070" stroke-opacity="0.45" stroke-width="1.1"/>
<path d="M526.6 507.8C528.4 512.6 537.1 527.9 537.1 536.7C537.1 545.5 529.2 552.1 526.6 560.4C524.0 568.7 522.7 577.0 521.4 586.6C520.1 596.2 519.2 612.9 518.7 618.2" fill="none" stroke="#707070" stroke-opacity="0.45" stroke-width="1.1"/>
<path d="M582.0 212.0C580.0 220.0 572.5 240.3 570.0 260.0C567.5 279.7 566.7 308.3 567.0 330.0C567.3 351.7 571.2 380.0 572.0 390.0" fill="none" stroke="#707070" stroke-opacity="0.45" stroke-width="1.1"/>
<path d="M600.0 200.0C604.2 204.2 619.7 211.7 625.0 225.0C630.3 238.3 630.8 270.8 632.0 280.0" fill="none" stroke="#707070" stroke-opacity="0.45" stroke-width="1.1"/>
<circle cx="227.8" cy="275.5" r="9.1" fill="url(#rs)" opacity="0.52"/>
<circle cx="243.5" cy="289" r="9.1" fill="url(#rs)" opacity="0.52"/>
<circle cx="527.7" cy="197.7" r="9.1" fill="url(#rs)" opacity="0.52"/>
<circle cx="511.7" cy="217" r="9.1" fill="url(#rs)" opacity="0.52"/>
<circle cx="505.2" cy="228.2" r="9.1" fill="url(#rs)" opacity="0.52"/>
<circle cx="507.4" cy="468.8" r="9.1" fill="url(#rs)" opacity="0.52"/>
<circle cx="323" cy="241" r="8.6" fill="url(#rs)" opacity="0.52"/>
<circle cx="341.5" cy="237.5" r="9.1" fill="url(#rs)" stroke="#3a0000" stroke-width="0.9"/>
<circle cx="428.2" cy="235.2" r="9.6" fill="url(#rs)" stroke="#3a0000" stroke-width="0.9"/>
<circle cx="451.5" cy="257" r="9.6" fill="url(#rs)" stroke="#3a0000" stroke-width="0.9"/>
<circle cx="494.5" cy="352" r="9.6" fill="url(#rs)" stroke="#3a0000" stroke-width="0.9"/>
<clipPath id="gclip"><path d="M324.9 251.2C332.8 244.9 343.3 236.5 352.5 233.5C361.7 230.5 370.8 232.3 380.0 233.0C389.2 233.7 397.9 235.0 407.7 237.4C417.5 239.8 428.5 241.7 439.0 247.3C449.5 252.9 462.1 261.8 470.7 271.0C479.3 280.2 485.5 292.0 490.4 302.5C495.3 313.0 499.2 325.8 500.3 334.0C501.4 342.2 499.1 345.7 497.0 352.0C494.9 358.3 492.4 364.5 488.0 372.0C483.6 379.5 478.2 387.6 470.7 397.0C463.2 406.4 451.6 420.4 443.1 428.6C434.6 436.8 426.7 442.8 419.5 446.4C412.3 450.0 408.4 451.1 399.8 450.3C391.2 449.5 380.0 445.7 368.2 441.4C356.4 437.1 340.6 432.1 328.8 424.7C317.0 417.3 305.4 405.8 297.3 397.0C289.2 388.2 284.1 380.7 280.0 372.0C275.9 363.3 273.8 353.7 273.0 345.0C272.2 336.3 272.9 327.1 275.0 320.0C277.1 312.9 280.5 310.7 285.5 302.5C290.5 294.3 298.6 279.6 305.2 271.0C311.8 262.4 317.0 257.4 324.9 251.2Z"/></clipPath>
<path d="M324.9 251.2C332.8 244.9 343.3 236.5 352.5 233.5C361.7 230.5 370.8 232.3 380.0 233.0C389.2 233.7 397.9 235.0 407.7 237.4C417.5 239.8 428.5 241.7 439.0 247.3C449.5 252.9 462.1 261.8 470.7 271.0C479.3 280.2 485.5 292.0 490.4 302.5C495.3 313.0 499.2 325.8 500.3 334.0C501.4 342.2 499.1 345.7 497.0 352.0C494.9 358.3 492.4 364.5 488.0 372.0C483.6 379.5 478.2 387.6 470.7 397.0C463.2 406.4 451.6 420.4 443.1 428.6C434.6 436.8 426.7 442.8 419.5 446.4C412.3 450.0 408.4 451.1 399.8 450.3C391.2 449.5 380.0 445.7 368.2 441.4C356.4 437.1 340.6 432.1 328.8 424.7C317.0 417.3 305.4 405.8 297.3 397.0C289.2 388.2 284.1 380.7 280.0 372.0C275.9 363.3 273.8 353.7 273.0 345.0C272.2 336.3 272.9 327.1 275.0 320.0C277.1 312.9 280.5 310.7 285.5 302.5C290.5 294.3 298.6 279.6 305.2 271.0C311.8 262.4 317.0 257.4 324.9 251.2Z" fill="url(#gg)"/>
<path d="M329.2 257.3C336.5 251.4 346.3 243.6 354.9 240.8C363.4 238.0 371.9 239.7 380.4 240.3C389.0 240.9 397.1 242.2 406.2 244.4C415.3 246.6 425.5 248.4 435.3 253.6C445.1 258.8 456.8 267.1 464.8 275.7C472.8 284.2 478.5 295.2 483.1 305.0C487.7 314.7 491.3 326.6 492.3 334.3C493.3 341.9 491.2 345.1 489.2 351.0C487.3 356.9 485.0 362.6 480.9 369.6C476.8 376.6 471.7 384.1 464.8 392.9C457.8 401.6 447.1 414.6 439.1 422.2C431.2 429.9 423.9 435.4 417.2 438.8C410.5 442.2 406.8 443.2 398.8 442.4C390.9 441.6 380.5 438.1 369.5 434.1C358.5 430.2 343.8 425.5 332.8 418.6C321.8 411.7 311.1 401.0 303.5 392.9C296.0 384.7 291.2 377.7 287.4 369.6C283.7 361.5 281.7 352.6 280.9 344.5C280.1 336.4 280.8 327.8 282.8 321.2C284.7 314.7 287.9 312.6 292.5 305.0C297.2 297.4 304.8 283.6 310.9 275.7C317.0 267.7 321.9 263.1 329.2 257.3Z" fill="none" stroke="#1f9a1f" stroke-opacity="0.35" stroke-width="3" filter="url(#blur3)"/>
<g clip-path="url(#gclip)">
<circle cx="319.4" cy="270.4" r="9.3" fill="url(#gs)"/>
<circle cx="333.4" cy="262.2" r="9.3" fill="url(#gs)"/>
<circle cx="326.4" cy="276.2" r="9.3" fill="url(#gs)"/>
<circle cx="346.3" cy="242.3" r="9.3" fill="url(#gs)"/>
<circle cx="358" cy="284.4" r="9.3" fill="url(#gs)"/>
<circle cx="310.1" cy="303.1" r="9.3" fill="url(#gs)"/>
<circle cx="315.9" cy="316.6" r="9.3" fill="url(#gs)"/>
<circle cx="355.6" cy="320.6" r="9.3" fill="url(#gs)"/>
<circle cx="348.6" cy="327.6" r="9.3" fill="url(#gs)"/>
<circle cx="362.6" cy="339.3" r="9.3" fill="url(#gs)"/>
<circle cx="380.2" cy="339.3" r="9.3" fill="url(#gs)"/>
<circle cx="387.2" cy="324.1" r="9.3" fill="url(#gs)"/>
<circle cx="396.5" cy="328.8" r="9.3" fill="url(#gs)"/>
<circle cx="394.2" cy="270.4" r="9.3" fill="url(#gs)"/>
<circle cx="310.1" cy="352.1" r="9.3" fill="url(#gs)"/>
<circle cx="319.4" cy="353.3" r="9.3" fill="url(#gs)"/>
<circle cx="300.7" cy="389.5" r="9.3" fill="url(#gs)"/>
<circle cx="410.4" cy="242.2" r="9.3" fill="url(#gs)"/>
<circle cx="415" cy="257.4" r="9.3" fill="url(#gs)"/>
<circle cx="426.7" cy="274.9" r="9.3" fill="url(#gs)"/>
<circle cx="404.5" cy="283.1" r="9.3" fill="url(#gs)"/>
<circle cx="409.2" cy="290.1" r="9.3" fill="url(#gs)"/>
<circle cx="458.3" cy="305.3" r="9.3" fill="url(#gs)"/>
<circle cx="404.5" cy="308.8" r="9.3" fill="url(#gs)"/>
<circle cx="404.5" cy="334.5" r="9.3" fill="url(#gs)"/>
<circle cx="461.8" cy="328.6" r="9.3" fill="url(#gs)"/>
<circle cx="482.8" cy="341.5" r="9.3" fill="url(#gs)"/>
<circle cx="492.1" cy="353.1" r="9.3" fill="url(#gs)"/>
<circle cx="408" cy="375.3" r="9.3" fill="url(#gs)"/>
<circle cx="450.1" cy="258.5" r="9.3" fill="url(#gs)"/>
<circle cx="424.4" cy="386.8" r="9.3" fill="url(#gs)"/>
<circle cx="333.3" cy="403.3" r="9.3" fill="url(#gs)"/>
<circle cx="347.3" cy="419" r="9.3" fill="url(#gs)"/>
<circle cx="358.9" cy="426.8" r="9.3" fill="url(#gs)"/>
<circle cx="377.1" cy="427.8" r="9.3" fill="url(#gs)"/>
<circle cx="427.9" cy="413.8" r="9.3" fill="url(#gs)"/>
<circle cx="424.4" cy="434.8" r="9.3" fill="url(#gs)"/>
<circle cx="341.5" cy="237.5" r="9.3" fill="url(#gs)"/>
<circle cx="428.2" cy="235.2" r="9.3" fill="url(#gs)"/>
<circle cx="451.5" cy="257" r="9.3" fill="url(#gs)"/>
<circle cx="494.5" cy="352" r="9.3" fill="url(#gs)"/>
</g>
<path d="M324.9 251.2C332.8 244.9 343.3 236.5 352.5 233.5C361.7 230.5 370.8 232.3 380.0 233.0C389.2 233.7 397.9 235.0 407.7 237.4C417.5 239.8 428.5 241.7 439.0 247.3C449.5 252.9 462.1 261.8 470.7 271.0C479.3 280.2 485.5 292.0 490.4 302.5C495.3 313.0 499.2 325.8 500.3 334.0C501.4 342.2 499.1 345.7 497.0 352.0C494.9 358.3 492.4 364.5 488.0 372.0C483.6 379.5 478.2 387.6 470.7 397.0C463.2 406.4 451.6 420.4 443.1 428.6C434.6 436.8 426.7 442.8 419.5 446.4C412.3 450.0 408.4 451.1 399.8 450.3C391.2 449.5 380.0 445.7 368.2 441.4C356.4 437.1 340.6 432.1 328.8 424.7C317.0 417.3 305.4 405.8 297.3 397.0C289.2 388.2 284.1 380.7 280.0 372.0C275.9 363.3 273.8 353.7 273.0 345.0C272.2 336.3 272.9 327.1 275.0 320.0C277.1 312.9 280.5 310.7 285.5 302.5C290.5 294.3 298.6 279.6 305.2 271.0C311.8 262.4 317.0 257.4 324.9 251.2Z" fill="none" stroke="#177a17" stroke-width="1.3"/>
<path d="M497.0 318.0C495.8 322.5 493.2 336.0 490.0 345.0C486.8 354.0 482.4 363.6 478.0 372.0C473.6 380.4 468.4 388.4 463.4 395.7C458.4 403.0 453.1 409.6 448.0 416.0C442.9 422.4 438.1 429.1 433.1 433.8C428.1 438.5 420.5 442.3 418.0 444.0" fill="none" stroke="#135f13" stroke-opacity="0.75" stroke-width="1.6"/>
<circle cx="649.2" cy="131" r="9.6" fill="url(#rs)" stroke="#3a0000" stroke-width="0.9"/>
<circle cx="104.8" cy="137.4" r="9.1" fill="url(#rs)" stroke="#3a0000" stroke-width="0.9"/>
<circle cx="391.2" cy="191" r="9.6" fill="url(#rs)" stroke="#3a0000" stroke-width="0.9"/>
<circle cx="428.2" cy="202.5" r="9.1" fill="url(#rs)" stroke="#3a0000" stroke-width="0.9"/>
<circle cx="370.8" cy="211.4" r="10.1" fill="url(#rs)" stroke="#3a0000" stroke-width="0.9"/>
<circle cx="391.2" cy="214.3" r="9.6" fill="url(#rs)" stroke="#3a0000" stroke-width="0.9"/>
<circle cx="351.8" cy="215.8" r="9.1" fill="url(#rs)" stroke="#3a0000" stroke-width="0.9"/>
<circle cx="108.6" cy="216.2" r="9.1" fill="url(#rs)" stroke="#3a0000" stroke-width="0.9"/>
<circle cx="434" cy="217" r="9.1" fill="url(#rs)" stroke="#3a0000" stroke-width="0.9"/>
<circle cx="392.7" cy="223" r="9.6" fill="url(#rs)" stroke="#3a0000" stroke-width="0.9"/>
<circle cx="416.9" cy="225" r="9.6" fill="url(#rs)" stroke="#3a0000" stroke-width="0.9"/>
<circle cx="370.8" cy="226" r="10.1" fill="url(#rs)" stroke="#3a0000" stroke-width="0.9"/>
<circle cx="351.8" cy="228.9" r="9.6" fill="url(#rs)" stroke="#3a0000" stroke-width="0.9"/>
<circle cx="413.7" cy="231.4" r="9.6" fill="url(#rs)" stroke="#3a0000" stroke-width="0.9"/>
<circle cx="473.1" cy="236.3" r="9.6" fill="url(#rs)" stroke="#3a0000" stroke-width="0.9"/>
<circle cx="505.2" cy="237.9" r="9.6" fill="url(#rs)" stroke="#3a0000" stroke-width="0.9"/>
<circle cx="482.8" cy="238.7" r="9.6" fill="url(#rs)" stroke="#3a0000" stroke-width="0.9"/>
<circle cx="439.4" cy="239.5" r="9.6" fill="url(#rs)" stroke="#3a0000" stroke-width="0.9"/>
<circle cx="328.5" cy="243" r="9.1" fill="url(#rs)" stroke="#3a0000" stroke-width="0.9"/>
<circle cx="447.4" cy="244.3" r="9.6" fill="url(#rs)" stroke="#3a0000" stroke-width="0.9"/>
<circle cx="494" cy="244.3" r="10.1" fill="url(#rs)" stroke="#3a0000" stroke-width="0.9"/>
<circle cx="465.1" cy="260.3" r="10.1" fill="url(#rs)" stroke="#3a0000" stroke-width="0.9"/>
<circle cx="498.8" cy="263.5" r="9.6" fill="url(#rs)" stroke="#3a0000" stroke-width="0.9"/>
<circle cx="503.8" cy="271.4" r="9.1" fill="url(#rs)" stroke="#3a0000" stroke-width="0.9"/>
<circle cx="299.3" cy="274.2" r="9.1" fill="url(#rs)" stroke="#3a0000" stroke-width="0.9"/>
<circle cx="498" cy="279.6" r="9.6" fill="url(#rs)" stroke="#3a0000" stroke-width="0.9"/>
<circle cx="307.7" cy="284.2" r="10.1" fill="url(#rs)" stroke="#3a0000" stroke-width="0.9"/>
<circle cx="482.8" cy="285.4" r="9.6" fill="url(#rs)" stroke="#3a0000" stroke-width="0.9"/>
<circle cx="533" cy="286.6" r="9.1" fill="url(#rs)" stroke="#3a0000" stroke-width="0.9"/>
<circle cx="488.6" cy="289.6" r="10.1" fill="url(#rs)" stroke="#3a0000" stroke-width="0.9"/>
<circle cx="289" cy="292.6" r="10.1" fill="url(#rs)" stroke="#3a0000" stroke-width="0.9"/>
<circle cx="277.4" cy="297.2" r="9.6" fill="url(#rs)" stroke="#3a0000" stroke-width="0.9"/>
<circle cx="515.5" cy="298.3" r="9.1" fill="url(#rs)" stroke="#3a0000" stroke-width="0.9"/>
<circle cx="506.1" cy="300.6" r="9.6" fill="url(#rs)" stroke="#3a0000" stroke-width="0.9"/>
<circle cx="296.1" cy="307.7" r="10.1" fill="url(#rs)" stroke="#3a0000" stroke-width="0.9"/>
<circle cx="529" cy="309.9" r="8.6" fill="url(#rs)" stroke="#3a0000" stroke-width="0.9"/>
<circle cx="249.8" cy="311.9" r="9.1" fill="url(#rs)" stroke="#3a0000" stroke-width="0.9"/>
<circle cx="268" cy="319" r="10.1" fill="url(#rs)" stroke="#3a0000" stroke-width="0.9"/>
<circle cx="498" cy="319.3" r="9.1" fill="url(#rs)" stroke="#3a0000" stroke-width="0.9"/>
<circle cx="155" cy="331" r="9.1" fill="url(#rs)" stroke="#3a0000" stroke-width="0.9"/>
<circle cx="523.7" cy="341.5" r="9.6" fill="url(#rs)" stroke="#3a0000" stroke-width="0.9"/>
<circle cx="162.6" cy="342.7" r="9.1" fill="url(#rs)" stroke="#3a0000" stroke-width="0.9"/>
<circle cx="244.2" cy="349.3" r="9.1" fill="url(#rs)" stroke="#3a0000" stroke-width="0.9"/>
<circle cx="171.7" cy="368.9" r="9.1" fill="url(#rs)" stroke="#3a0000" stroke-width="0.9"/>
<circle cx="298.4" cy="370.3" r="10.6" fill="url(#rs)" stroke="#3a0000" stroke-width="0.9"/>
<circle cx="163.3" cy="372.7" r="9.1" fill="url(#rs)" stroke="#3a0000" stroke-width="0.9"/>
<circle cx="266.9" cy="374.3" r="9.6" fill="url(#rs)" stroke="#3a0000" stroke-width="0.9"/>
<circle cx="269.2" cy="378.3" r="9.1" fill="url(#rs)" stroke="#3a0000" stroke-width="0.9"/>
<circle cx="445.4" cy="380.3" r="10.6" fill="url(#rs)" stroke="#3a0000" stroke-width="0.9"/>
<circle cx="255.2" cy="380.6" r="10.1" fill="url(#rs)" stroke="#3a0000" stroke-width="0.9"/>
<circle cx="186.1" cy="400.4" r="9.6" fill="url(#rs)" stroke="#3a0000" stroke-width="0.9"/>
<circle cx="473.4" cy="401.5" r="9.6" fill="url(#rs)" stroke="#3a0000" stroke-width="0.9"/>
<circle cx="478" cy="411.3" r="9.6" fill="url(#rs)" stroke="#3a0000" stroke-width="0.9"/>
<circle cx="523.2" cy="416.6" r="9.1" fill="url(#rs)" stroke="#3a0000" stroke-width="0.9"/>
<circle cx="447.2" cy="434.1" r="9.1" fill="url(#rs)" stroke="#3a0000" stroke-width="0.9"/>
<circle cx="336.8" cy="437.3" r="9.1" fill="url(#rs)" stroke="#3a0000" stroke-width="0.9"/>
<circle cx="428.9" cy="440.1" r="9.1" fill="url(#rs)" stroke="#3a0000" stroke-width="0.9"/>
<circle cx="448.9" cy="441.8" r="10.1" fill="url(#rs)" stroke="#3a0000" stroke-width="0.9"/>
<circle cx="475.2" cy="444.3" r="9.6" fill="url(#rs)" stroke="#3a0000" stroke-width="0.9"/>
<circle cx="440.2" cy="445.3" r="9.1" fill="url(#rs)" stroke="#3a0000" stroke-width="0.9"/>
<circle cx="482.2" cy="447.8" r="9.1" fill="url(#rs)" stroke="#3a0000" stroke-width="0.9"/>
<circle cx="342.7" cy="452" r="9.6" fill="url(#rs)" stroke="#3a0000" stroke-width="0.9"/>
<circle cx="384.1" cy="459.3" r="9.1" fill="url(#rs)" stroke="#3a0000" stroke-width="0.9"/>
<circle cx="385.8" cy="460.4" r="9.1" fill="url(#rs)" stroke="#3a0000" stroke-width="0.9"/>
<circle cx="412.8" cy="461.8" r="9.1" fill="url(#rs)" stroke="#3a0000" stroke-width="0.9"/>
<circle cx="426.1" cy="461.8" r="9.1" fill="url(#rs)" stroke="#3a0000" stroke-width="0.9"/>
<circle cx="371.8" cy="463.9" r="9.1" fill="url(#rs)" stroke="#3a0000" stroke-width="0.9"/>
<circle cx="380.6" cy="463.9" r="9.6" fill="url(#rs)" stroke="#3a0000" stroke-width="0.9"/>
<circle cx="382.9" cy="464.8" r="9.1" fill="url(#rs)" stroke="#3a0000" stroke-width="0.9"/>
<circle cx="448.9" cy="466.4" r="9.6" fill="url(#rs)" stroke="#3a0000" stroke-width="0.9"/>
<circle cx="462.9" cy="470.6" r="9.6" fill="url(#rs)" stroke="#3a0000" stroke-width="0.9"/>
<circle cx="412.1" cy="472.3" r="10.1" fill="url(#rs)" stroke="#3a0000" stroke-width="0.9"/>
<circle cx="387.6" cy="476.9" r="9.1" fill="url(#rs)" stroke="#3a0000" stroke-width="0.9"/>
<circle cx="371.8" cy="490.9" r="10.1" fill="url(#rs)" stroke="#3a0000" stroke-width="0.9"/>
<circle cx="406.2" cy="492.6" r="9.6" fill="url(#rs)" stroke="#3a0000" stroke-width="0.9"/>
<circle cx="399.2" cy="496.8" r="9.1" fill="url(#rs)" stroke="#3a0000" stroke-width="0.9"/>
<circle cx="232.5" cy="103.6" r="8.3" fill="url(#bs)" stroke="#00003a" stroke-width="0.6"/>
<circle cx="573.5" cy="222.8" r="9" fill="url(#bs)" stroke="#00003a" stroke-width="0.6"/>
<circle cx="76.1" cy="437.2" r="10" fill="url(#bs)" stroke="#00003a" stroke-width="0.6"/>
<circle cx="153.8" cy="445.8" r="8.7" fill="url(#bs)" stroke="#00003a" stroke-width="0.6"/>
<circle cx="258.3" cy="428.2" r="9" fill="url(#bs)" stroke="#00003a" stroke-width="0.6"/>
<circle cx="555.8" cy="474.2" r="9.5" fill="url(#bs)" stroke="#00003a" stroke-width="0.6"/>
<circle cx="66" cy="587" r="8.5" fill="url(#bs)" stroke="#00003a" stroke-width="0.6"/>
<rect x="92.3" y="619.1" width="58.6" height="3.5" fill="#000"/>
<text x="92.3" y="613" font-family="Liberation Sans, sans-serif" font-size="23" fill="#111">25μm</text>
<g stroke="#1a1a1a" stroke-width="1.6" fill="none">
<path d="M84.5 803.4H643V797.4"/>
<path d="M84.5 803.4V1176.5H78.4"/>
<path d="M127.0 803.4V797.6"/>
<path d="M212.8 803.4V797.6"/>
<path d="M298.6 803.4V797.6"/>
<path d="M384.4 803.4V797.6"/>
<path d="M470.2 803.4V797.6"/>
<path d="M556.0 803.4V797.6"/>
<path d="M84.5 803.4H78.4"/>
<path d="M84.5 856.5H78.4"/>
<path d="M84.5 909.6H78.4"/>
<path d="M84.5 962.7H78.4"/>
<path d="M84.5 1015.9H78.4"/>
<path d="M84.5 1069.0H78.4"/>
<path d="M84.5 1122.1H78.4"/>
<path d="M84.5 1175.2H78.4"/>
</g>
<path d="M213 803.4V1176.6" stroke="#8c8c8c" stroke-width="2" stroke-dasharray="16 8.55"/>
<g font-family="Liberation Sans, sans-serif" font-size="23" fill="#1a1a1a">
<text x="124.5" y="793" text-anchor="middle">-20</text>
<text x="213" y="793" text-anchor="middle">0</text>
<text x="297.3" y="793" text-anchor="middle">20</text>
<text x="384" y="793" text-anchor="middle">40</text>
<text x="470.2" y="793" text-anchor="middle">60</text>
<text x="557.3" y="793" text-anchor="middle">80</text>
<text x="649" y="793">100</text>
<text x="74.2" y="813.6" text-anchor="end">-20</text>
<text x="74.2" y="866.7" text-anchor="end">0</text>
<text x="74.2" y="919.8" text-anchor="end">20</text>
<text x="74.2" y="972.9" text-anchor="end">40</text>
<text x="74.2" y="1026.1" text-anchor="end">60</text>
<text x="74.2" y="1079.2" text-anchor="end">80</text>
<text x="74.2" y="1132.3" text-anchor="end">100</text>
<text x="74.2" y="1185.4" text-anchor="end">120</text>
<text x="357.9" y="758" text-anchor="middle" font-size="22.75">horizontal-position of interneurons</text>
<text transform="translate(19.8 1011) rotate(-90)" text-anchor="middle" font-size="22.9">z-position of interneurons</text>
</g>
<rect x="115.2" y="825.2" width="10.4" height="10.4" fill="none" stroke="#c8200e" stroke-width="1.7" rx="0.8"/>
<rect x="140.1" y="825.2" width="10.4" height="10.4" fill="none" stroke="#c8200e" stroke-width="1.7" rx="0.8"/>
<rect x="148.6" y="825.2" width="10.4" height="10.4" fill="none" stroke="#c8200e" stroke-width="1.7" rx="0.8"/>
<circle cx="160.5" cy="830.4" r="5.1" fill="none" stroke="#ff2a08" stroke-width="1.7"/>
<circle cx="163.0" cy="830.4" r="5.1" fill="none" stroke="#ff2a08" stroke-width="1.7"/>
<circle cx="165.4" cy="830.4" r="5.1" fill="none" stroke="#ff2a08" stroke-width="1.7"/>
<rect x="163.4" y="825.2" width="10.4" height="10.4" fill="none" stroke="#c8200e" stroke-width="1.7" rx="0.8"/>
<rect x="166.3" y="825.2" width="10.4" height="10.4" fill="none" stroke="#c8200e" stroke-width="1.7" rx="0.8"/>
<rect x="169.1" y="825.2" width="10.4" height="10.4" fill="none" stroke="#c8200e" stroke-width="1.7" rx="0.8"/>
<rect x="171.8" y="825.2" width="10.4" height="10.4" fill="none" stroke="#c8200e" stroke-width="1.7" rx="0.8"/>
<rect x="173.8" y="825.2" width="10.4" height="10.4" fill="none" stroke="#c8200e" stroke-width="1.7" rx="0.8"/>
<path d="M184.7 824.8L190.3 830.4L184.7 836.0L179.1 830.4Z" fill="none" stroke="#9a180a" stroke-width="1.6" stroke-linejoin="round"/>
<path d="M187.0 825.2L192.6 835.7L181.4 835.7Z" fill="none" stroke="#a01a0a" stroke-width="1.6" stroke-linejoin="round"/>
<circle cx="190.0" cy="830.4" r="5.1" fill="none" stroke="#ff2a08" stroke-width="1.7"/>
<circle cx="193.5" cy="830.4" r="5.1" fill="none" stroke="#ff2a08" stroke-width="1.7"/>
<circle cx="196.0" cy="830.4" r="5.1" fill="none" stroke="#ff2a08" stroke-width="1.7"/>
<circle cx="201.0" cy="830.4" r="5.1" fill="none" stroke="#ff2a08" stroke-width="1.7"/>
<circle cx="204.0" cy="830.4" r="5.1" fill="none" stroke="#ff2a08" stroke-width="1.7"/>
<circle cx="208.0" cy="830.4" r="5.1" fill="none" stroke="#ff2a08" stroke-width="1.7"/>
<rect x="205.8" y="825.2" width="10.4" height="10.4" fill="none" stroke="#c8200e" stroke-width="1.7" rx="0.8"/>
<circle cx="214.4" cy="830.4" r="5.1" fill="none" stroke="#ff2a08" stroke-width="1.7"/>
<circle cx="216.5" cy="830.4" r="5.1" fill="none" stroke="#ff2a08" stroke-width="1.7"/>
<circle cx="219.2" cy="830.4" r="5.1" fill="none" stroke="#ff2a08" stroke-width="1.7"/>
<path d="M222.5 824.8L228.1 830.4L222.5 836.0L216.9 830.4Z" fill="none" stroke="#9a180a" stroke-width="1.6" stroke-linejoin="round"/>
<path d="M226.5 824.8L232.1 830.4L226.5 836.0L220.9 830.4Z" fill="none" stroke="#9a180a" stroke-width="1.6" stroke-linejoin="round"/>
<path d="M232.0 824.8L237.6 830.4L232.0 836.0L226.4 830.4Z" fill="none" stroke="#9a180a" stroke-width="1.6" stroke-linejoin="round"/>
<circle cx="235.0" cy="830.4" r="5.1" fill="none" stroke="#ff2a08" stroke-width="1.7"/>
<circle cx="242.5" cy="830.4" r="5.1" fill="none" stroke="#ff2a08" stroke-width="1.7"/>
<path d="M250.2 825.2L255.8 835.7L244.6 835.7Z" fill="none" stroke="#a01a0a" stroke-width="1.6" stroke-linejoin="round"/>
<path d="M259.9 825.2L265.5 835.7L254.3 835.7Z" fill="none" stroke="#a01a0a" stroke-width="1.6" stroke-linejoin="round"/>
<path d="M289.8 824.8L295.4 830.4L289.8 836.0L284.2 830.4Z" fill="none" stroke="#9a180a" stroke-width="1.6" stroke-linejoin="round"/>
<circle cx="199.2" cy="830.4" r="5.2" fill="#000"/>
<path d="M134.7 851.8L140.3 862.3L129.1 862.3Z" fill="none" stroke="#a01a0a" stroke-width="1.6" stroke-linejoin="round"/>
<path d="M168.6 851.4L174.2 857.0L168.6 862.6L163.0 857.0Z" fill="none" stroke="#9a180a" stroke-width="1.6" stroke-linejoin="round"/>
<rect x="175.3" y="851.8" width="10.4" height="10.4" fill="none" stroke="#c8200e" stroke-width="1.7" rx="0.8"/>
<rect x="178.7" y="851.8" width="10.4" height="10.4" fill="none" stroke="#c8200e" stroke-width="1.7" rx="0.8"/>
<path d="M187.3 851.4L192.9 857.0L187.3 862.6L181.7 857.0Z" fill="none" stroke="#9a180a" stroke-width="1.6" stroke-linejoin="round"/>
<rect x="185.5" y="851.8" width="10.4" height="10.4" fill="none" stroke="#c8200e" stroke-width="1.7" rx="0.8"/>
<path d="M194.1 851.8L199.7 862.3L188.5 862.3Z" fill="none" stroke="#a01a0a" stroke-width="1.6" stroke-linejoin="round"/>
<rect x="192.3" y="851.8" width="10.4" height="10.4" fill="none" stroke="#c8200e" stroke-width="1.7" rx="0.8"/>
<path d="M200.9 851.4L206.5 857.0L200.9 862.6L195.3 857.0Z" fill="none" stroke="#9a180a" stroke-width="1.6" stroke-linejoin="round"/>
<rect x="199.1" y="851.8" width="10.4" height="10.4" fill="none" stroke="#c8200e" stroke-width="1.7" rx="0.8"/>
<rect x="202.5" y="851.8" width="10.4" height="10.4" fill="none" stroke="#c8200e" stroke-width="1.7" rx="0.8"/>
<path d="M211.1 851.8L216.7 862.3L205.5 862.3Z" fill="none" stroke="#a01a0a" stroke-width="1.6" stroke-linejoin="round"/>
<rect x="209.3" y="851.8" width="10.4" height="10.4" fill="none" stroke="#c8200e" stroke-width="1.7" rx="0.8"/>
<rect x="212.7" y="851.8" width="10.4" height="10.4" fill="none" stroke="#c8200e" stroke-width="1.7" rx="0.8"/>
<path d="M221.3 851.4L226.9 857.0L221.3 862.6L215.7 857.0Z" fill="none" stroke="#9a180a" stroke-width="1.6" stroke-linejoin="round"/>
<rect x="219.5" y="851.8" width="10.4" height="10.4" fill="none" stroke="#c8200e" stroke-width="1.7" rx="0.8"/>
<path d="M228.1 851.8L233.7 862.3L222.5 862.3Z" fill="none" stroke="#a01a0a" stroke-width="1.6" stroke-linejoin="round"/>
<rect x="226.3" y="851.8" width="10.4" height="10.4" fill="none" stroke="#c8200e" stroke-width="1.7" rx="0.8"/>
<path d="M234.9 851.4L240.5 857.0L234.9 862.6L229.3 857.0Z" fill="none" stroke="#9a180a" stroke-width="1.6" stroke-linejoin="round"/>
<rect x="233.1" y="851.8" width="10.4" height="10.4" fill="none" stroke="#c8200e" stroke-width="1.7" rx="0.8"/>
<rect x="236.5" y="851.8" width="10.4" height="10.4" fill="none" stroke="#c8200e" stroke-width="1.7" rx="0.8"/>
<path d="M245.1 851.8L250.7 862.3L239.5 862.3Z" fill="none" stroke="#a01a0a" stroke-width="1.6" stroke-linejoin="round"/>
<rect x="243.3" y="851.8" width="10.4" height="10.4" fill="none" stroke="#c8200e" stroke-width="1.7" rx="0.8"/>
<rect x="246.7" y="851.8" width="10.4" height="10.4" fill="none" stroke="#c8200e" stroke-width="1.7" rx="0.8"/>
<path d="M255.3 851.4L260.9 857.0L255.3 862.6L249.7 857.0Z" fill="none" stroke="#9a180a" stroke-width="1.6" stroke-linejoin="round"/>
<rect x="253.5" y="851.8" width="10.4" height="10.4" fill="none" stroke="#c8200e" stroke-width="1.7" rx="0.8"/>
<path d="M262.1 851.8L267.7 862.3L256.5 862.3Z" fill="none" stroke="#a01a0a" stroke-width="1.6" stroke-linejoin="round"/>
<rect x="260.3" y="851.8" width="10.4" height="10.4" fill="none" stroke="#c8200e" stroke-width="1.7" rx="0.8"/>
<rect x="175.3" y="851.8" width="10.4" height="10.4" fill="none" stroke="#c8200e" stroke-width="1.7" rx="0.8"/>
<rect x="260.3" y="851.8" width="10.4" height="10.4" fill="none" stroke="#c8200e" stroke-width="1.7" rx="0.8"/>
<path d="M275.0 851.4L280.6 857.0L275.0 862.6L269.4 857.0Z" fill="none" stroke="#9a180a" stroke-width="1.6" stroke-linejoin="round"/>
<path d="M290.0 851.8L295.6 862.3L284.4 862.3Z" fill="none" stroke="#a01a0a" stroke-width="1.6" stroke-linejoin="round"/>
<rect x="290.2" y="851.8" width="10.4" height="10.4" fill="none" stroke="#c8200e" stroke-width="1.7" rx="0.8"/>
<rect x="349.5" y="851.8" width="10.4" height="10.4" fill="none" stroke="#c8200e" stroke-width="1.7" rx="0.8"/>
<circle cx="340.4" cy="857.0" r="5.1" fill="none" stroke="#1a44ff" stroke-width="1.7"/>
<circle cx="220.0" cy="857.0" r="5.2" fill="#000"/>
<path d="M138.8 857.0H157.8M138.8 852.0V862.0M157.8 852.0V862.0" stroke="#22ee22" stroke-width="1.6" fill="none"/><circle cx="148.6" cy="857.0" r="5.9" fill="#22ee22"/>
<rect x="210.0" y="879.1" width="45.0" height="9" fill="#f42a0c"/>
<path d="M147.0 878.0L152.6 883.6L147.0 889.2L141.4 883.6Z" fill="none" stroke="#9a180a" stroke-width="1.6" stroke-linejoin="round"/>
<path d="M178.0 878.0L183.6 883.6L178.0 889.2L172.4 883.6Z" fill="none" stroke="#9a180a" stroke-width="1.6" stroke-linejoin="round"/>
<rect x="186.8" y="878.4" width="10.4" height="10.4" fill="none" stroke="#c8200e" stroke-width="1.7" rx="0.8"/>
<rect x="191.3" y="878.4" width="10.4" height="10.4" fill="none" stroke="#c8200e" stroke-width="1.7" rx="0.8"/>
<rect x="195.8" y="878.4" width="10.4" height="10.4" fill="none" stroke="#c8200e" stroke-width="1.7" rx="0.8"/>
<rect x="199.3" y="878.4" width="10.4" height="10.4" fill="none" stroke="#c8200e" stroke-width="1.7" rx="0.8"/>
<circle cx="214.0" cy="883.6" r="5.1" fill="none" stroke="#ff2a08" stroke-width="1.7"/>
<circle cx="216.4" cy="883.6" r="5.1" fill="none" stroke="#ff2a08" stroke-width="1.7"/>
<circle cx="218.8" cy="883.6" r="5.1" fill="none" stroke="#ff2a08" stroke-width="1.7"/>
<circle cx="221.2" cy="883.6" r="5.1" fill="none" stroke="#ff2a08" stroke-width="1.7"/>
<circle cx="223.6" cy="883.6" r="5.1" fill="none" stroke="#ff2a08" stroke-width="1.7"/>
<circle cx="226.0" cy="883.6" r="5.1" fill="none" stroke="#ff2a08" stroke-width="1.7"/>
<circle cx="228.4" cy="883.6" r="5.1" fill="none" stroke="#ff2a08" stroke-width="1.7"/>
<circle cx="230.8" cy="883.6" r="5.1" fill="none" stroke="#ff2a08" stroke-width="1.7"/>
<circle cx="233.2" cy="883.6" r="5.1" fill="none" stroke="#ff2a08" stroke-width="1.7"/>
<circle cx="235.6" cy="883.6" r="5.1" fill="none" stroke="#ff2a08" stroke-width="1.7"/>
<circle cx="238.0" cy="883.6" r="5.1" fill="none" stroke="#ff2a08" stroke-width="1.7"/>
<circle cx="240.4" cy="883.6" r="5.1" fill="none" stroke="#ff2a08" stroke-width="1.7"/>
<circle cx="242.8" cy="883.6" r="5.1" fill="none" stroke="#ff2a08" stroke-width="1.7"/>
<circle cx="245.2" cy="883.6" r="5.1" fill="none" stroke="#ff2a08" stroke-width="1.7"/>
<circle cx="247.6" cy="883.6" r="5.1" fill="none" stroke="#ff2a08" stroke-width="1.7"/>
<circle cx="250.0" cy="883.6" r="5.1" fill="none" stroke="#ff2a08" stroke-width="1.7"/>
<rect x="208.8" y="878.4" width="10.4" height="10.4" fill="none" stroke="#c8200e" stroke-width="1.7" rx="0.8"/>
<rect x="218.3" y="878.4" width="10.4" height="10.4" fill="none" stroke="#c8200e" stroke-width="1.7" rx="0.8"/>
<rect x="227.8" y="878.4" width="10.4" height="10.4" fill="none" stroke="#c8200e" stroke-width="1.7" rx="0.8"/>
<rect x="237.3" y="878.4" width="10.4" height="10.4" fill="none" stroke="#c8200e" stroke-width="1.7" rx="0.8"/>
<circle cx="220.0" cy="883.6" r="5.1" fill="none" stroke="#b81c0c" stroke-width="1.7"/>
<circle cx="233.0" cy="883.6" r="5.1" fill="none" stroke="#b81c0c" stroke-width="1.7"/>
<circle cx="246.0" cy="883.6" r="5.1" fill="none" stroke="#b81c0c" stroke-width="1.7"/>
<path d="M257.0 878.0L262.6 883.6L257.0 889.2L251.4 883.6Z" fill="none" stroke="#9a180a" stroke-width="1.6" stroke-linejoin="round"/>
<rect x="257.8" y="878.4" width="10.4" height="10.4" fill="none" stroke="#c8200e" stroke-width="1.7" rx="0.8"/>
<rect x="262.8" y="878.4" width="10.4" height="10.4" fill="none" stroke="#c8200e" stroke-width="1.7" rx="0.8"/>
<path d="M272.0 878.0L277.6 883.6L272.0 889.2L266.4 883.6Z" fill="none" stroke="#9a180a" stroke-width="1.6" stroke-linejoin="round"/>
<path d="M277.0 878.0L282.6 883.6L277.0 889.2L271.4 883.6Z" fill="none" stroke="#9a180a" stroke-width="1.6" stroke-linejoin="round"/>
<path d="M282.0 878.4L287.6 888.9L276.4 888.9Z" fill="none" stroke="#a01a0a" stroke-width="1.6" stroke-linejoin="round"/>
<path d="M287.0 878.0L292.6 883.6L287.0 889.2L281.4 883.6Z" fill="none" stroke="#9a180a" stroke-width="1.6" stroke-linejoin="round"/>
<path d="M292.0 878.4L297.6 888.9L286.4 888.9Z" fill="none" stroke="#a01a0a" stroke-width="1.6" stroke-linejoin="round"/>
<path d="M296.0 878.0L301.6 883.6L296.0 889.2L290.4 883.6Z" fill="none" stroke="#9a180a" stroke-width="1.6" stroke-linejoin="round"/>
<path d="M309.3 878.4L314.9 888.9L303.7 888.9Z" fill="none" stroke="#a01a0a" stroke-width="1.6" stroke-linejoin="round"/>
<rect x="353.6" y="878.4" width="10.4" height="10.4" fill="none" stroke="#c8200e" stroke-width="1.7" rx="0.8"/>
<rect x="402.1" y="878.4" width="10.4" height="10.4" fill="none" stroke="#1c2a9e" stroke-width="1.7" rx="0.8"/>
<circle cx="430.3" cy="883.6" r="5.1" fill="none" stroke="#1a44ff" stroke-width="1.7"/>
<rect x="486.0" y="878.4" width="10.4" height="10.4" fill="none" stroke="#1c2a9e" stroke-width="1.7" rx="0.8"/>
<circle cx="237.0" cy="883.6" r="5.2" fill="#000"/>
<circle cx="185.0" cy="883.6" r="5.9" fill="#22ee22"/>
<rect x="219.0" y="905.6" width="37.0" height="9" fill="#f42a0c"/>
<rect x="143.0" y="904.9" width="10.4" height="10.4" fill="none" stroke="#c8200e" stroke-width="1.7" rx="0.8"/>
<path d="M186.4 904.9L192.0 915.4L180.8 915.4Z" fill="none" stroke="#a01a0a" stroke-width="1.6" stroke-linejoin="round"/>
<path d="M196.6 904.9L202.2 915.4L191.0 915.4Z" fill="none" stroke="#a01a0a" stroke-width="1.6" stroke-linejoin="round"/>
<rect x="196.5" y="904.9" width="10.4" height="10.4" fill="none" stroke="#c8200e" stroke-width="1.7" rx="0.8"/>
<path d="M215.0 904.5L220.6 910.1L215.0 915.7L209.4 910.1Z" fill="none" stroke="#9a180a" stroke-width="1.6" stroke-linejoin="round"/>
<circle cx="223.0" cy="910.1" r="5.1" fill="none" stroke="#ff2a08" stroke-width="1.7"/>
<circle cx="225.4" cy="910.1" r="5.1" fill="none" stroke="#ff2a08" stroke-width="1.7"/>
<circle cx="227.8" cy="910.1" r="5.1" fill="none" stroke="#ff2a08" stroke-width="1.7"/>
<circle cx="230.2" cy="910.1" r="5.1" fill="none" stroke="#ff2a08" stroke-width="1.7"/>
<circle cx="232.6" cy="910.1" r="5.1" fill="none" stroke="#ff2a08" stroke-width="1.7"/>
<circle cx="235.0" cy="910.1" r="5.1" fill="none" stroke="#ff2a08" stroke-width="1.7"/>
<circle cx="237.4" cy="910.1" r="5.1" fill="none" stroke="#ff2a08" stroke-width="1.7"/>
<circle cx="239.8" cy="910.1" r="5.1" fill="none" stroke="#ff2a08" stroke-width="1.7"/>
<circle cx="242.2" cy="910.1" r="5.1" fill="none" stroke="#ff2a08" stroke-width="1.7"/>
<circle cx="244.6" cy="910.1" r="5.1" fill="none" stroke="#ff2a08" stroke-width="1.7"/>
<circle cx="247.0" cy="910.1" r="5.1" fill="none" stroke="#ff2a08" stroke-width="1.7"/>
<circle cx="249.4" cy="910.1" r="5.1" fill="none" stroke="#ff2a08" stroke-width="1.7"/>
<circle cx="251.8" cy="910.1" r="5.1" fill="none" stroke="#ff2a08" stroke-width="1.7"/>
<rect x="217.8" y="904.9" width="10.4" height="10.4" fill="none" stroke="#c8200e" stroke-width="1.7" rx="0.8"/>
<rect x="227.3" y="904.9" width="10.4" height="10.4" fill="none" stroke="#c8200e" stroke-width="1.7" rx="0.8"/>
<rect x="236.8" y="904.9" width="10.4" height="10.4" fill="none" stroke="#c8200e" stroke-width="1.7" rx="0.8"/>
<rect x="246.3" y="904.9" width="10.4" height="10.4" fill="none" stroke="#c8200e" stroke-width="1.7" rx="0.8"/>
<circle cx="229.0" cy="910.1" r="5.1" fill="none" stroke="#b81c0c" stroke-width="1.7"/>
<circle cx="242.0" cy="910.1" r="5.1" fill="none" stroke="#b81c0c" stroke-width="1.7"/>
<circle cx="257.0" cy="910.1" r="5.1" fill="none" stroke="#ff2a08" stroke-width="1.7"/>
<path d="M260.0 904.5L265.6 910.1L260.0 915.7L254.4 910.1Z" fill="none" stroke="#9a180a" stroke-width="1.6" stroke-linejoin="round"/>
<circle cx="263.0" cy="910.1" r="5.1" fill="none" stroke="#ff2a08" stroke-width="1.7"/>
<rect x="260.8" y="904.9" width="10.4" height="10.4" fill="none" stroke="#c8200e" stroke-width="1.7" rx="0.8"/>
<path d="M269.0 904.5L274.6 910.1L269.0 915.7L263.4 910.1Z" fill="none" stroke="#9a180a" stroke-width="1.6" stroke-linejoin="round"/>
<circle cx="272.0" cy="910.1" r="5.1" fill="none" stroke="#ff2a08" stroke-width="1.7"/>
<path d="M275.0 904.5L280.6 910.1L275.0 915.7L269.4 910.1Z" fill="none" stroke="#9a180a" stroke-width="1.6" stroke-linejoin="round"/>
<rect x="252.8" y="904.9" width="10.4" height="10.4" fill="none" stroke="#c8200e" stroke-width="1.7" rx="0.8"/>
<rect x="258.8" y="904.9" width="10.4" height="10.4" fill="none" stroke="#c8200e" stroke-width="1.7" rx="0.8"/>
<rect x="264.8" y="904.9" width="10.4" height="10.4" fill="none" stroke="#c8200e" stroke-width="1.7" rx="0.8"/>
<path d="M280.0 904.5L285.6 910.1L280.0 915.7L274.4 910.1Z" fill="none" stroke="#9a180a" stroke-width="1.6" stroke-linejoin="round"/>
<rect x="279.8" y="904.9" width="10.4" height="10.4" fill="none" stroke="#c8200e" stroke-width="1.7" rx="0.8"/>
<path d="M289.0 904.5L294.6 910.1L289.0 915.7L283.4 910.1Z" fill="none" stroke="#9a180a" stroke-width="1.6" stroke-linejoin="round"/>
<rect x="288.8" y="904.9" width="10.4" height="10.4" fill="none" stroke="#c8200e" stroke-width="1.7" rx="0.8"/>
<path d="M298.0 904.5L303.6 910.1L298.0 915.7L292.4 910.1Z" fill="none" stroke="#9a180a" stroke-width="1.6" stroke-linejoin="round"/>
<rect x="299.8" y="904.9" width="10.4" height="10.4" fill="none" stroke="#c8200e" stroke-width="1.7" rx="0.8"/>
<path d="M309.0 904.5L314.6 910.1L309.0 915.7L303.4 910.1Z" fill="none" stroke="#9a180a" stroke-width="1.6" stroke-linejoin="round"/>
<rect x="307.8" y="904.9" width="10.4" height="10.4" fill="none" stroke="#c8200e" stroke-width="1.7" rx="0.8"/>
<path d="M317.0 904.5L322.6 910.1L317.0 915.7L311.4 910.1Z" fill="none" stroke="#9a180a" stroke-width="1.6" stroke-linejoin="round"/>
<circle cx="333.4" cy="910.1" r="5.1" fill="none" stroke="#ff2a08" stroke-width="1.7"/>
<circle cx="509.4" cy="910.1" r="5.1" fill="none" stroke="#ff2a08" stroke-width="1.7"/>
<circle cx="325.8" cy="910.1" r="5.1" fill="none" stroke="#1a44ff" stroke-width="1.7"/>
<circle cx="241.5" cy="910.1" r="5.2" fill="#000"/>
<circle cx="207.5" cy="910.1" r="5.9" fill="#22ee22"/>
<rect x="215.0" y="932.2" width="70.0" height="9" fill="#f42a0c"/>
<path d="M194.5 931.5L200.1 942.0L188.9 942.0Z" fill="none" stroke="#a01a0a" stroke-width="1.6" stroke-linejoin="round"/>
<circle cx="219.0" cy="936.7" r="5.1" fill="none" stroke="#ff2a08" stroke-width="1.7"/>
<circle cx="221.4" cy="936.7" r="5.1" fill="none" stroke="#ff2a08" stroke-width="1.7"/>
<circle cx="223.8" cy="936.7" r="5.1" fill="none" stroke="#ff2a08" stroke-width="1.7"/>
<circle cx="226.2" cy="936.7" r="5.1" fill="none" stroke="#ff2a08" stroke-width="1.7"/>
<circle cx="228.6" cy="936.7" r="5.1" fill="none" stroke="#ff2a08" stroke-width="1.7"/>
<circle cx="231.0" cy="936.7" r="5.1" fill="none" stroke="#ff2a08" stroke-width="1.7"/>
<circle cx="233.4" cy="936.7" r="5.1" fill="none" stroke="#ff2a08" stroke-width="1.7"/>
<circle cx="235.8" cy="936.7" r="5.1" fill="none" stroke="#ff2a08" stroke-width="1.7"/>
<circle cx="238.2" cy="936.7" r="5.1" fill="none" stroke="#ff2a08" stroke-width="1.7"/>
<circle cx="240.6" cy="936.7" r="5.1" fill="none" stroke="#ff2a08" stroke-width="1.7"/>
<circle cx="243.0" cy="936.7" r="5.1" fill="none" stroke="#ff2a08" stroke-width="1.7"/>
<circle cx="245.4" cy="936.7" r="5.1" fill="none" stroke="#ff2a08" stroke-width="1.7"/>
<circle cx="247.8" cy="936.7" r="5.1" fill="none" stroke="#ff2a08" stroke-width="1.7"/>
<circle cx="250.2" cy="936.7" r="5.1" fill="none" stroke="#ff2a08" stroke-width="1.7"/>
<circle cx="252.6" cy="936.7" r="5.1" fill="none" stroke="#ff2a08" stroke-width="1.7"/>
<circle cx="255.0" cy="936.7" r="5.1" fill="none" stroke="#ff2a08" stroke-width="1.7"/>
<circle cx="257.4" cy="936.7" r="5.1" fill="none" stroke="#ff2a08" stroke-width="1.7"/>
<circle cx="259.8" cy="936.7" r="5.1" fill="none" stroke="#ff2a08" stroke-width="1.7"/>
<circle cx="262.2" cy="936.7" r="5.1" fill="none" stroke="#ff2a08" stroke-width="1.7"/>
<circle cx="264.6" cy="936.7" r="5.1" fill="none" stroke="#ff2a08" stroke-width="1.7"/>
<circle cx="267.0" cy="936.7" r="5.1" fill="none" stroke="#ff2a08" stroke-width="1.7"/>
<circle cx="269.4" cy="936.7" r="5.1" fill="none" stroke="#ff2a08" stroke-width="1.7"/>
<circle cx="271.8" cy="936.7" r="5.1" fill="none" stroke="#ff2a08" stroke-width="1.7"/>
<circle cx="274.2" cy="936.7" r="5.1" fill="none" stroke="#ff2a08" stroke-width="1.7"/>
<circle cx="276.6" cy="936.7" r="5.1" fill="none" stroke="#ff2a08" stroke-width="1.7"/>
<circle cx="279.0" cy="936.7" r="5.1" fill="none" stroke="#ff2a08" stroke-width="1.7"/>
<rect x="213.8" y="931.5" width="10.4" height="10.4" fill="none" stroke="#c8200e" stroke-width="1.7" rx="0.8"/>
<rect x="223.3" y="931.5" width="10.4" height="10.4" fill="none" stroke="#c8200e" stroke-width="1.7" rx="0.8"/>
<rect x="232.8" y="931.5" width="10.4" height="10.4" fill="none" stroke="#c8200e" stroke-width="1.7" rx="0.8"/>
<rect x="242.3" y="931.5" width="10.4" height="10.4" fill="none" stroke="#c8200e" stroke-width="1.7" rx="0.8"/>
<rect x="251.8" y="931.5" width="10.4" height="10.4" fill="none" stroke="#c8200e" stroke-width="1.7" rx="0.8"/>
<rect x="261.3" y="931.5" width="10.4" height="10.4" fill="none" stroke="#c8200e" stroke-width="1.7" rx="0.8"/>
<rect x="270.8" y="931.5" width="10.4" height="10.4" fill="none" stroke="#c8200e" stroke-width="1.7" rx="0.8"/>
<circle cx="225.0" cy="936.7" r="5.1" fill="none" stroke="#b81c0c" stroke-width="1.7"/>
<circle cx="238.0" cy="936.7" r="5.1" fill="none" stroke="#b81c0c" stroke-width="1.7"/>
<circle cx="251.0" cy="936.7" r="5.1" fill="none" stroke="#b81c0c" stroke-width="1.7"/>
<circle cx="264.0" cy="936.7" r="5.1" fill="none" stroke="#b81c0c" stroke-width="1.7"/>
<circle cx="277.0" cy="936.7" r="5.1" fill="none" stroke="#b81c0c" stroke-width="1.7"/>
<path d="M288.5 931.1L294.1 936.7L288.5 942.3L282.9 936.7Z" fill="none" stroke="#9a180a" stroke-width="1.6" stroke-linejoin="round"/>
<path d="M293.0 931.5L298.6 942.0L287.4 942.0Z" fill="none" stroke="#a01a0a" stroke-width="1.6" stroke-linejoin="round"/>
<path d="M298.0 931.1L303.6 936.7L298.0 942.3L292.4 936.7Z" fill="none" stroke="#9a180a" stroke-width="1.6" stroke-linejoin="round"/>
<path d="M303.0 931.5L308.6 942.0L297.4 942.0Z" fill="none" stroke="#a01a0a" stroke-width="1.6" stroke-linejoin="round"/>
<path d="M309.0 931.5L314.6 942.0L303.4 942.0Z" fill="none" stroke="#a01a0a" stroke-width="1.6" stroke-linejoin="round"/>
<rect x="310.8" y="931.5" width="10.4" height="10.4" fill="none" stroke="#c8200e" stroke-width="1.7" rx="0.8"/>
<path d="M321.0 931.1L326.6 936.7L321.0 942.3L315.4 936.7Z" fill="none" stroke="#9a180a" stroke-width="1.6" stroke-linejoin="round"/>
<path d="M326.0 931.1L331.6 936.7L326.0 942.3L320.4 936.7Z" fill="none" stroke="#9a180a" stroke-width="1.6" stroke-linejoin="round"/>
<rect x="334.1" y="931.5" width="10.4" height="10.4" fill="none" stroke="#c8200e" stroke-width="1.7" rx="0.8"/>
<rect x="359.7" y="931.5" width="10.4" height="10.4" fill="none" stroke="#c8200e" stroke-width="1.7" rx="0.8"/>
<circle cx="248.5" cy="936.7" r="5.2" fill="#000"/>
<path d="M203.5 936.7H208.5M203.5 931.7V941.7M208.5 931.7V941.7" stroke="#22ee22" stroke-width="1.6" fill="none"/><circle cx="206.0" cy="936.7" r="5.9" fill="#22ee22"/>
<rect x="198.0" y="958.7" width="119.0" height="9" fill="#f42a0c"/>
<path d="M180.3 958.0L185.9 968.5L174.7 968.5Z" fill="none" stroke="#a01a0a" stroke-width="1.6" stroke-linejoin="round"/>
<path d="M187.4 957.6L193.0 963.2L187.4 968.8L181.8 963.2Z" fill="none" stroke="#9a180a" stroke-width="1.6" stroke-linejoin="round"/>
<circle cx="202.0" cy="963.2" r="5.1" fill="none" stroke="#ff2a08" stroke-width="1.7"/>
<circle cx="204.4" cy="963.2" r="5.1" fill="none" stroke="#ff2a08" stroke-width="1.7"/>
<circle cx="206.8" cy="963.2" r="5.1" fill="none" stroke="#ff2a08" stroke-width="1.7"/>
<circle cx="209.2" cy="963.2" r="5.1" fill="none" stroke="#ff2a08" stroke-width="1.7"/>
<circle cx="211.6" cy="963.2" r="5.1" fill="none" stroke="#ff2a08" stroke-width="1.7"/>
<circle cx="214.0" cy="963.2" r="5.1" fill="none" stroke="#ff2a08" stroke-width="1.7"/>
<circle cx="216.4" cy="963.2" r="5.1" fill="none" stroke="#ff2a08" stroke-width="1.7"/>
<circle cx="218.8" cy="963.2" r="5.1" fill="none" stroke="#ff2a08" stroke-width="1.7"/>
<circle cx="221.2" cy="963.2" r="5.1" fill="none" stroke="#ff2a08" stroke-width="1.7"/>
<circle cx="223.6" cy="963.2" r="5.1" fill="none" stroke="#ff2a08" stroke-width="1.7"/>
<circle cx="226.0" cy="963.2" r="5.1" fill="none" stroke="#ff2a08" stroke-width="1.7"/>
<circle cx="228.4" cy="963.2" r="5.1" fill="none" stroke="#ff2a08" stroke-width="1.7"/>
<circle cx="230.8" cy="963.2" r="5.1" fill="none" stroke="#ff2a08" stroke-width="1.7"/>
<circle cx="233.2" cy="963.2" r="5.1" fill="none" stroke="#ff2a08" stroke-width="1.7"/>
<circle cx="235.6" cy="963.2" r="5.1" fill="none" stroke="#ff2a08" stroke-width="1.7"/>
<circle cx="238.0" cy="963.2" r="5.1" fill="none" stroke="#ff2a08" stroke-width="1.7"/>
<circle cx="240.4" cy="963.2" r="5.1" fill="none" stroke="#ff2a08" stroke-width="1.7"/>
<circle cx="242.8" cy="963.2" r="5.1" fill="none" stroke="#ff2a08" stroke-width="1.7"/>
<circle cx="245.2" cy="963.2" r="5.1" fill="none" stroke="#ff2a08" stroke-width="1.7"/>
<circle cx="247.6" cy="963.2" r="5.1" fill="none" stroke="#ff2a08" stroke-width="1.7"/>
<circle cx="250.0" cy="963.2" r="5.1" fill="none" stroke="#ff2a08" stroke-width="1.7"/>
<circle cx="252.4" cy="963.2" r="5.1" fill="none" stroke="#ff2a08" stroke-width="1.7"/>
<circle cx="254.8" cy="963.2" r="5.1" fill="none" stroke="#ff2a08" stroke-width="1.7"/>
<circle cx="257.2" cy="963.2" r="5.1" fill="none" stroke="#ff2a08" stroke-width="1.7"/>
<circle cx="259.6" cy="963.2" r="5.1" fill="none" stroke="#ff2a08" stroke-width="1.7"/>
<circle cx="262.0" cy="963.2" r="5.1" fill="none" stroke="#ff2a08" stroke-width="1.7"/>
<circle cx="264.4" cy="963.2" r="5.1" fill="none" stroke="#ff2a08" stroke-width="1.7"/>
<circle cx="266.8" cy="963.2" r="5.1" fill="none" stroke="#ff2a08" stroke-width="1.7"/>
<circle cx="269.2" cy="963.2" r="5.1" fill="none" stroke="#ff2a08" stroke-width="1.7"/>
<circle cx="271.6" cy="963.2" r="5.1" fill="none" stroke="#ff2a08" stroke-width="1.7"/>
<circle cx="274.0" cy="963.2" r="5.1" fill="none" stroke="#ff2a08" stroke-width="1.7"/>
<circle cx="276.4" cy="963.2" r="5.1" fill="none" stroke="#ff2a08" stroke-width="1.7"/>
<circle cx="278.8" cy="963.2" r="5.1" fill="none" stroke="#ff2a08" stroke-width="1.7"/>
<circle cx="281.2" cy="963.2" r="5.1" fill="none" stroke="#ff2a08" stroke-width="1.7"/>
<circle cx="283.6" cy="963.2" r="5.1" fill="none" stroke="#ff2a08" stroke-width="1.7"/>
<circle cx="286.0" cy="963.2" r="5.1" fill="none" stroke="#ff2a08" stroke-width="1.7"/>
<circle cx="288.4" cy="963.2" r="5.1" fill="none" stroke="#ff2a08" stroke-width="1.7"/>
<circle cx="290.8" cy="963.2" r="5.1" fill="none" stroke="#ff2a08" stroke-width="1.7"/>
<circle cx="293.2" cy="963.2" r="5.1" fill="none" stroke="#ff2a08" stroke-width="1.7"/>
<circle cx="295.6" cy="963.2" r="5.1" fill="none" stroke="#ff2a08" stroke-width="1.7"/>
<circle cx="298.0" cy="963.2" r="5.1" fill="none" stroke="#ff2a08" stroke-width="1.7"/>
<circle cx="300.4" cy="963.2" r="5.1" fill="none" stroke="#ff2a08" stroke-width="1.7"/>
<circle cx="302.8" cy="963.2" r="5.1" fill="none" stroke="#ff2a08" stroke-width="1.7"/>
<circle cx="305.2" cy="963.2" r="5.1" fill="none" stroke="#ff2a08" stroke-width="1.7"/>
<circle cx="307.6" cy="963.2" r="5.1" fill="none" stroke="#ff2a08" stroke-width="1.7"/>
<circle cx="310.0" cy="963.2" r="5.1" fill="none" stroke="#ff2a08" stroke-width="1.7"/>
<circle cx="312.4" cy="963.2" r="5.1" fill="none" stroke="#ff2a08" stroke-width="1.7"/>
<rect x="196.8" y="958.0" width="10.4" height="10.4" fill="none" stroke="#c8200e" stroke-width="1.7" rx="0.8"/>
<rect x="206.3" y="958.0" width="10.4" height="10.4" fill="none" stroke="#c8200e" stroke-width="1.7" rx="0.8"/>
<rect x="215.8" y="958.0" width="10.4" height="10.4" fill="none" stroke="#c8200e" stroke-width="1.7" rx="0.8"/>
<rect x="225.3" y="958.0" width="10.4" height="10.4" fill="none" stroke="#c8200e" stroke-width="1.7" rx="0.8"/>
<rect x="234.8" y="958.0" width="10.4" height="10.4" fill="none" stroke="#c8200e" stroke-width="1.7" rx="0.8"/>
<rect x="244.3" y="958.0" width="10.4" height="10.4" fill="none" stroke="#c8200e" stroke-width="1.7" rx="0.8"/>
<rect x="253.8" y="958.0" width="10.4" height="10.4" fill="none" stroke="#c8200e" stroke-width="1.7" rx="0.8"/>
<rect x="263.3" y="958.0" width="10.4" height="10.4" fill="none" stroke="#c8200e" stroke-width="1.7" rx="0.8"/>
<rect x="272.8" y="958.0" width="10.4" height="10.4" fill="none" stroke="#c8200e" stroke-width="1.7" rx="0.8"/>
<rect x="282.3" y="958.0" width="10.4" height="10.4" fill="none" stroke="#c8200e" stroke-width="1.7" rx="0.8"/>
<rect x="291.8" y="958.0" width="10.4" height="10.4" fill="none" stroke="#c8200e" stroke-width="1.7" rx="0.8"/>
<rect x="301.3" y="958.0" width="10.4" height="10.4" fill="none" stroke="#c8200e" stroke-width="1.7" rx="0.8"/>
<circle cx="208.0" cy="963.2" r="5.1" fill="none" stroke="#b81c0c" stroke-width="1.7"/>
<circle cx="221.0" cy="963.2" r="5.1" fill="none" stroke="#b81c0c" stroke-width="1.7"/>
<circle cx="234.0" cy="963.2" r="5.1" fill="none" stroke="#b81c0c" stroke-width="1.7"/>
<circle cx="247.0" cy="963.2" r="5.1" fill="none" stroke="#b81c0c" stroke-width="1.7"/>
<circle cx="260.0" cy="963.2" r="5.1" fill="none" stroke="#b81c0c" stroke-width="1.7"/>
<circle cx="273.0" cy="963.2" r="5.1" fill="none" stroke="#b81c0c" stroke-width="1.7"/>
<circle cx="286.0" cy="963.2" r="5.1" fill="none" stroke="#b81c0c" stroke-width="1.7"/>
<circle cx="299.0" cy="963.2" r="5.1" fill="none" stroke="#b81c0c" stroke-width="1.7"/>
<circle cx="312.0" cy="963.2" r="5.1" fill="none" stroke="#b81c0c" stroke-width="1.7"/>
<rect x="310.8" y="958.0" width="10.4" height="10.4" fill="none" stroke="#c8200e" stroke-width="1.7" rx="0.8"/>
<path d="M340.4 958.0L346.0 968.5L334.8 968.5Z" fill="none" stroke="#a01a0a" stroke-width="1.6" stroke-linejoin="round"/>
<path d="M377.5 957.6L383.1 963.2L377.5 968.8L371.9 963.2Z" fill="none" stroke="#9a180a" stroke-width="1.6" stroke-linejoin="round"/>
<rect x="385.5" y="958.0" width="10.4" height="10.4" fill="none" stroke="#c8200e" stroke-width="1.7" rx="0.8"/>
<path d="M390.7 958.0L396.3 968.5L385.1 968.5Z" fill="none" stroke="#a01a0a" stroke-width="1.6" stroke-linejoin="round"/>
<path d="M434.5 958.0L440.1 968.5L428.9 968.5Z" fill="none" stroke="#a01a0a" stroke-width="1.6" stroke-linejoin="round"/>
<path d="M509.0 958.0L514.6 968.5L503.4 968.5Z" fill="none" stroke="#a01a0a" stroke-width="1.6" stroke-linejoin="round"/>
<rect x="591.3" y="958.0" width="10.4" height="10.4" fill="none" stroke="#c8200e" stroke-width="1.7" rx="0.8"/>
<path d="M596.5 958.0L602.1 968.5L590.9 968.5Z" fill="none" stroke="#a01a0a" stroke-width="1.6" stroke-linejoin="round"/>
<circle cx="326.0" cy="963.2" r="5.1" fill="none" stroke="#1a44ff" stroke-width="1.7"/>
<circle cx="244.0" cy="963.2" r="5.2" fill="#000"/>
<circle cx="193.6" cy="963.2" r="5.9" fill="#22ee22"/>
<rect x="182.0" y="985.3" width="128.0" height="9" fill="#f42a0c"/>
<circle cx="132.7" cy="989.8" r="5.1" fill="none" stroke="#ff2a08" stroke-width="1.7"/>
<path d="M152.7 984.2L158.3 989.8L152.7 995.4L147.1 989.8Z" fill="none" stroke="#9a180a" stroke-width="1.6" stroke-linejoin="round"/>
<path d="M163.0 984.6L168.6 995.1L157.4 995.1Z" fill="none" stroke="#a01a0a" stroke-width="1.6" stroke-linejoin="round"/>
<path d="M167.0 984.6L172.6 995.1L161.4 995.1Z" fill="none" stroke="#a01a0a" stroke-width="1.6" stroke-linejoin="round"/>
<path d="M171.0 984.6L176.6 995.1L165.4 995.1Z" fill="none" stroke="#a01a0a" stroke-width="1.6" stroke-linejoin="round"/>
<path d="M175.0 984.6L180.6 995.1L169.4 995.1Z" fill="none" stroke="#a01a0a" stroke-width="1.6" stroke-linejoin="round"/>
<path d="M179.0 984.6L184.6 995.1L173.4 995.1Z" fill="none" stroke="#a01a0a" stroke-width="1.6" stroke-linejoin="round"/>
<circle cx="186.0" cy="989.8" r="5.1" fill="none" stroke="#ff2a08" stroke-width="1.7"/>
<circle cx="188.4" cy="989.8" r="5.1" fill="none" stroke="#ff2a08" stroke-width="1.7"/>
<circle cx="190.8" cy="989.8" r="5.1" fill="none" stroke="#ff2a08" stroke-width="1.7"/>
<circle cx="193.2" cy="989.8" r="5.1" fill="none" stroke="#ff2a08" stroke-width="1.7"/>
<circle cx="195.6" cy="989.8" r="5.1" fill="none" stroke="#ff2a08" stroke-width="1.7"/>
<circle cx="198.0" cy="989.8" r="5.1" fill="none" stroke="#ff2a08" stroke-width="1.7"/>
<circle cx="200.4" cy="989.8" r="5.1" fill="none" stroke="#ff2a08" stroke-width="1.7"/>
<circle cx="202.8" cy="989.8" r="5.1" fill="none" stroke="#ff2a08" stroke-width="1.7"/>
<circle cx="205.2" cy="989.8" r="5.1" fill="none" stroke="#ff2a08" stroke-width="1.7"/>
<circle cx="207.6" cy="989.8" r="5.1" fill="none" stroke="#ff2a08" stroke-width="1.7"/>
<circle cx="210.0" cy="989.8" r="5.1" fill="none" stroke="#ff2a08" stroke-width="1.7"/>
<circle cx="212.4" cy="989.8" r="5.1" fill="none" stroke="#ff2a08" stroke-width="1.7"/>
<circle cx="214.8" cy="989.8" r="5.1" fill="none" stroke="#ff2a08" stroke-width="1.7"/>
<circle cx="217.2" cy="989.8" r="5.1" fill="none" stroke="#ff2a08" stroke-width="1.7"/>
<circle cx="219.6" cy="989.8" r="5.1" fill="none" stroke="#ff2a08" stroke-width="1.7"/>
<circle cx="222.0" cy="989.8" r="5.1" fill="none" stroke="#ff2a08" stroke-width="1.7"/>
<circle cx="224.4" cy="989.8" r="5.1" fill="none" stroke="#ff2a08" stroke-width="1.7"/>
<circle cx="226.8" cy="989.8" r="5.1" fill="none" stroke="#ff2a08" stroke-width="1.7"/>
<circle cx="229.2" cy="989.8" r="5.1" fill="none" stroke="#ff2a08" stroke-width="1.7"/>
<circle cx="231.6" cy="989.8" r="5.1" fill="none" stroke="#ff2a08" stroke-width="1.7"/>
<circle cx="234.0" cy="989.8" r="5.1" fill="none" stroke="#ff2a08" stroke-width="1.7"/>
<circle cx="236.4" cy="989.8" r="5.1" fill="none" stroke="#ff2a08" stroke-width="1.7"/>
<circle cx="238.8" cy="989.8" r="5.1" fill="none" stroke="#ff2a08" stroke-width="1.7"/>
<circle cx="241.2" cy="989.8" r="5.1" fill="none" stroke="#ff2a08" stroke-width="1.7"/>
<circle cx="243.6" cy="989.8" r="5.1" fill="none" stroke="#ff2a08" stroke-width="1.7"/>
<circle cx="246.0" cy="989.8" r="5.1" fill="none" stroke="#ff2a08" stroke-width="1.7"/>
<circle cx="248.4" cy="989.8" r="5.1" fill="none" stroke="#ff2a08" stroke-width="1.7"/>
<circle cx="250.8" cy="989.8" r="5.1" fill="none" stroke="#ff2a08" stroke-width="1.7"/>
<circle cx="253.2" cy="989.8" r="5.1" fill="none" stroke="#ff2a08" stroke-width="1.7"/>
<circle cx="255.6" cy="989.8" r="5.1" fill="none" stroke="#ff2a08" stroke-width="1.7"/>
<circle cx="258.0" cy="989.8" r="5.1" fill="none" stroke="#ff2a08" stroke-width="1.7"/>
<circle cx="260.4" cy="989.8" r="5.1" fill="none" stroke="#ff2a08" stroke-width="1.7"/>
<circle cx="262.8" cy="989.8" r="5.1" fill="none" stroke="#ff2a08" stroke-width="1.7"/>
<circle cx="265.2" cy="989.8" r="5.1" fill="none" stroke="#ff2a08" stroke-width="1.7"/>
<circle cx="267.6" cy="989.8" r="5.1" fill="none" stroke="#ff2a08" stroke-width="1.7"/>
<circle cx="270.0" cy="989.8" r="5.1" fill="none" stroke="#ff2a08" stroke-width="1.7"/>
<circle cx="272.4" cy="989.8" r="5.1" fill="none" stroke="#ff2a08" stroke-width="1.7"/>
<circle cx="274.8" cy="989.8" r="5.1" fill="none" stroke="#ff2a08" stroke-width="1.7"/>
<circle cx="277.2" cy="989.8" r="5.1" fill="none" stroke="#ff2a08" stroke-width="1.7"/>
<circle cx="279.6" cy="989.8" r="5.1" fill="none" stroke="#ff2a08" stroke-width="1.7"/>
<circle cx="282.0" cy="989.8" r="5.1" fill="none" stroke="#ff2a08" stroke-width="1.7"/>
<circle cx="284.4" cy="989.8" r="5.1" fill="none" stroke="#ff2a08" stroke-width="1.7"/>
<circle cx="286.8" cy="989.8" r="5.1" fill="none" stroke="#ff2a08" stroke-width="1.7"/>
<circle cx="289.2" cy="989.8" r="5.1" fill="none" stroke="#ff2a08" stroke-width="1.7"/>
<circle cx="291.6" cy="989.8" r="5.1" fill="none" stroke="#ff2a08" stroke-width="1.7"/>
<circle cx="294.0" cy="989.8" r="5.1" fill="none" stroke="#ff2a08" stroke-width="1.7"/>
<circle cx="296.4" cy="989.8" r="5.1" fill="none" stroke="#ff2a08" stroke-width="1.7"/>
<circle cx="298.8" cy="989.8" r="5.1" fill="none" stroke="#ff2a08" stroke-width="1.7"/>
<circle cx="301.2" cy="989.8" r="5.1" fill="none" stroke="#ff2a08" stroke-width="1.7"/>
<circle cx="303.6" cy="989.8" r="5.1" fill="none" stroke="#ff2a08" stroke-width="1.7"/>
<circle cx="306.0" cy="989.8" r="5.1" fill="none" stroke="#ff2a08" stroke-width="1.7"/>
<rect x="180.8" y="984.6" width="10.4" height="10.4" fill="none" stroke="#c8200e" stroke-width="1.7" rx="0.8"/>
<rect x="190.3" y="984.6" width="10.4" height="10.4" fill="none" stroke="#c8200e" stroke-width="1.7" rx="0.8"/>
<rect x="199.8" y="984.6" width="10.4" height="10.4" fill="none" stroke="#c8200e" stroke-width="1.7" rx="0.8"/>
<rect x="209.3" y="984.6" width="10.4" height="10.4" fill="none" stroke="#c8200e" stroke-width="1.7" rx="0.8"/>
<rect x="218.8" y="984.6" width="10.4" height="10.4" fill="none" stroke="#c8200e" stroke-width="1.7" rx="0.8"/>
<rect x="228.3" y="984.6" width="10.4" height="10.4" fill="none" stroke="#c8200e" stroke-width="1.7" rx="0.8"/>
<rect x="237.8" y="984.6" width="10.4" height="10.4" fill="none" stroke="#c8200e" stroke-width="1.7" rx="0.8"/>
<rect x="247.3" y="984.6" width="10.4" height="10.4" fill="none" stroke="#c8200e" stroke-width="1.7" rx="0.8"/>
<rect x="256.8" y="984.6" width="10.4" height="10.4" fill="none" stroke="#c8200e" stroke-width="1.7" rx="0.8"/>
<rect x="266.3" y="984.6" width="10.4" height="10.4" fill="none" stroke="#c8200e" stroke-width="1.7" rx="0.8"/>
<rect x="275.8" y="984.6" width="10.4" height="10.4" fill="none" stroke="#c8200e" stroke-width="1.7" rx="0.8"/>
<rect x="285.3" y="984.6" width="10.4" height="10.4" fill="none" stroke="#c8200e" stroke-width="1.7" rx="0.8"/>
<rect x="294.8" y="984.6" width="10.4" height="10.4" fill="none" stroke="#c8200e" stroke-width="1.7" rx="0.8"/>
<circle cx="192.0" cy="989.8" r="5.1" fill="none" stroke="#b81c0c" stroke-width="1.7"/>
<circle cx="205.0" cy="989.8" r="5.1" fill="none" stroke="#b81c0c" stroke-width="1.7"/>
<circle cx="218.0" cy="989.8" r="5.1" fill="none" stroke="#b81c0c" stroke-width="1.7"/>
<circle cx="231.0" cy="989.8" r="5.1" fill="none" stroke="#b81c0c" stroke-width="1.7"/>
<circle cx="244.0" cy="989.8" r="5.1" fill="none" stroke="#b81c0c" stroke-width="1.7"/>
<circle cx="257.0" cy="989.8" r="5.1" fill="none" stroke="#b81c0c" stroke-width="1.7"/>
<circle cx="270.0" cy="989.8" r="5.1" fill="none" stroke="#b81c0c" stroke-width="1.7"/>
<circle cx="283.0" cy="989.8" r="5.1" fill="none" stroke="#b81c0c" stroke-width="1.7"/>
<circle cx="296.0" cy="989.8" r="5.1" fill="none" stroke="#b81c0c" stroke-width="1.7"/>
<rect x="303.8" y="984.6" width="10.4" height="10.4" fill="none" stroke="#c8200e" stroke-width="1.7" rx="0.8"/>
<rect x="328.8" y="984.6" width="10.4" height="10.4" fill="none" stroke="#c8200e" stroke-width="1.7" rx="0.8"/>
<path d="M338.0 984.6L343.6 995.1L332.4 995.1Z" fill="none" stroke="#a01a0a" stroke-width="1.6" stroke-linejoin="round"/>
<rect x="339.3" y="984.6" width="10.4" height="10.4" fill="none" stroke="#c8200e" stroke-width="1.7" rx="0.8"/>
<circle cx="362.0" cy="989.8" r="5.1" fill="none" stroke="#ff2a08" stroke-width="1.7"/>
<rect x="363.8" y="984.6" width="10.4" height="10.4" fill="none" stroke="#c8200e" stroke-width="1.7" rx="0.8"/>
<rect x="367.8" y="984.6" width="10.4" height="10.4" fill="none" stroke="#c8200e" stroke-width="1.7" rx="0.8"/>
<circle cx="377.5" cy="989.8" r="5.1" fill="none" stroke="#ff2a08" stroke-width="1.7"/>
<path d="M514.0 984.6L519.6 995.1L508.4 995.1Z" fill="none" stroke="#a01a0a" stroke-width="1.6" stroke-linejoin="round"/>
<rect x="320.6" y="984.6" width="10.4" height="10.4" fill="none" stroke="#1c2a9e" stroke-width="1.7" rx="0.8"/>
<circle cx="325.8" cy="989.8" r="5.1" fill="none" stroke="#1a44ff" stroke-width="1.7"/>
<path d="M366.0 984.6L371.6 995.1L360.4 995.1Z" fill="none" stroke="#2a7aff" stroke-width="1.6" stroke-linejoin="round"/>
<circle cx="240.0" cy="989.8" r="5.2" fill="#000"/>
<path d="M155.5 989.8H164.5M155.5 984.8V994.8M164.5 984.8V994.8" stroke="#22ee22" stroke-width="1.6" fill="none"/><circle cx="160.0" cy="989.8" r="5.9" fill="#22ee22"/>
<circle cx="132.0" cy="1016.4" r="5.1" fill="none" stroke="#ff2a08" stroke-width="1.7"/>
<rect x="131.8" y="1011.2" width="10.4" height="10.4" fill="none" stroke="#c8200e" stroke-width="1.7" rx="0.8"/>
<rect x="136.8" y="1011.2" width="10.4" height="10.4" fill="none" stroke="#c8200e" stroke-width="1.7" rx="0.8"/>
<circle cx="147.0" cy="1016.4" r="5.1" fill="none" stroke="#ff2a08" stroke-width="1.7"/>
<rect x="146.8" y="1011.2" width="10.4" height="10.4" fill="none" stroke="#c8200e" stroke-width="1.7" rx="0.8"/>
<rect x="151.8" y="1011.2" width="10.4" height="10.4" fill="none" stroke="#c8200e" stroke-width="1.7" rx="0.8"/>
<circle cx="162.0" cy="1016.4" r="5.1" fill="none" stroke="#ff2a08" stroke-width="1.7"/>
<path d="M166.0 1011.2L171.6 1021.7L160.4 1021.7Z" fill="none" stroke="#a01a0a" stroke-width="1.6" stroke-linejoin="round"/>
<rect x="163.8" y="1011.2" width="10.4" height="10.4" fill="none" stroke="#c8200e" stroke-width="1.7" rx="0.8"/>
<path d="M173.0 1011.2L178.6 1021.7L167.4 1021.7Z" fill="none" stroke="#a01a0a" stroke-width="1.6" stroke-linejoin="round"/>
<rect x="171.8" y="1011.2" width="10.4" height="10.4" fill="none" stroke="#c8200e" stroke-width="1.7" rx="0.8"/>
<circle cx="181.0" cy="1016.4" r="5.1" fill="none" stroke="#ff2a08" stroke-width="1.7"/>
<rect x="179.8" y="1011.2" width="10.4" height="10.4" fill="none" stroke="#c8200e" stroke-width="1.7" rx="0.8"/>
<path d="M189.0 1010.8L194.6 1016.4L189.0 1022.0L183.4 1016.4Z" fill="none" stroke="#9a180a" stroke-width="1.6" stroke-linejoin="round"/>
<circle cx="193.0" cy="1016.4" r="5.1" fill="none" stroke="#ff2a08" stroke-width="1.7"/>
<rect x="191.8" y="1011.2" width="10.4" height="10.4" fill="none" stroke="#c8200e" stroke-width="1.7" rx="0.8"/>
<path d="M201.0 1010.8L206.6 1016.4L201.0 1022.0L195.4 1016.4Z" fill="none" stroke="#9a180a" stroke-width="1.6" stroke-linejoin="round"/>
<circle cx="205.0" cy="1016.4" r="5.1" fill="none" stroke="#ff2a08" stroke-width="1.7"/>
<path d="M209.0 1010.8L214.6 1016.4L209.0 1022.0L203.4 1016.4Z" fill="none" stroke="#9a180a" stroke-width="1.6" stroke-linejoin="round"/>
<circle cx="214.0" cy="1016.4" r="5.1" fill="none" stroke="#ff2a08" stroke-width="1.7"/>
<circle cx="219.0" cy="1016.4" r="5.1" fill="none" stroke="#ff2a08" stroke-width="1.7"/>
<rect x="218.8" y="1011.2" width="10.4" height="10.4" fill="none" stroke="#c8200e" stroke-width="1.7" rx="0.8"/>
<circle cx="232.0" cy="1016.4" r="5.1" fill="none" stroke="#ff2a08" stroke-width="1.7"/>
<circle cx="236.0" cy="1016.4" r="5.1" fill="none" stroke="#ff2a08" stroke-width="1.7"/>
<path d="M250.0 1011.2L255.6 1021.7L244.4 1021.7Z" fill="none" stroke="#a01a0a" stroke-width="1.6" stroke-linejoin="round"/>
<path d="M253.0 1011.2L258.6 1021.7L247.4 1021.7Z" fill="none" stroke="#a01a0a" stroke-width="1.6" stroke-linejoin="round"/>
<path d="M257.0 1011.2L262.6 1021.7L251.4 1021.7Z" fill="none" stroke="#a01a0a" stroke-width="1.6" stroke-linejoin="round"/>
<path d="M269.0 1010.8L274.6 1016.4L269.0 1022.0L263.4 1016.4Z" fill="none" stroke="#9a180a" stroke-width="1.6" stroke-linejoin="round"/>
<circle cx="276.0" cy="1016.4" r="5.1" fill="none" stroke="#ff2a08" stroke-width="1.7"/>
<rect x="284.8" y="1011.2" width="10.4" height="10.4" fill="none" stroke="#c8200e" stroke-width="1.7" rx="0.8"/>
<path d="M298.4 1011.2L304.0 1021.7L292.8 1021.7Z" fill="none" stroke="#a01a0a" stroke-width="1.6" stroke-linejoin="round"/>
<path d="M304.2 1011.2L309.8 1021.7L298.6 1021.7Z" fill="none" stroke="#a01a0a" stroke-width="1.6" stroke-linejoin="round"/>
<path d="M310.0 1010.8L315.6 1016.4L310.0 1022.0L304.4 1016.4Z" fill="none" stroke="#9a180a" stroke-width="1.6" stroke-linejoin="round"/>
<circle cx="319.4" cy="1016.4" r="5.1" fill="none" stroke="#ff2a08" stroke-width="1.7"/>
<rect x="325.8" y="1011.2" width="10.4" height="10.4" fill="none" stroke="#c8200e" stroke-width="1.7" rx="0.8"/>
<circle cx="359.0" cy="1016.4" r="5.1" fill="none" stroke="#ff2a08" stroke-width="1.7"/>
<circle cx="368.5" cy="1016.4" r="5.1" fill="none" stroke="#ff2a08" stroke-width="1.7"/>
<path d="M376.6 1010.8L382.2 1016.4L376.6 1022.0L371.0 1016.4Z" fill="none" stroke="#9a180a" stroke-width="1.6" stroke-linejoin="round"/>
<path d="M418.0 1011.2L423.6 1021.7L412.4 1021.7Z" fill="none" stroke="#a01a0a" stroke-width="1.6" stroke-linejoin="round"/>
<path d="M471.0 1010.8L476.6 1016.4L471.0 1022.0L465.4 1016.4Z" fill="none" stroke="#9a180a" stroke-width="1.6" stroke-linejoin="round"/>
<circle cx="489.0" cy="1016.4" r="5.1" fill="none" stroke="#ff2a08" stroke-width="1.7"/>
<circle cx="326.0" cy="1016.4" r="5.1" fill="none" stroke="#1a44ff" stroke-width="1.7"/>
<path d="M399.7 1010.8L405.3 1016.4L399.7 1022.0L394.1 1016.4Z" fill="none" stroke="#1a44ff" stroke-width="1.6" stroke-linejoin="round"/>
<path d="M582.3 1010.8L587.9 1016.4L582.3 1022.0L576.7 1016.4Z" fill="none" stroke="#1a44ff" stroke-width="1.6" stroke-linejoin="round"/>
<circle cx="227.3" cy="1016.4" r="5.2" fill="#000"/>
<path d="M110.5 1016.4H125.2M110.5 1011.4V1021.4M125.2 1011.4V1021.4" stroke="#22ee22" stroke-width="1.6" fill="none"/><circle cx="117.5" cy="1016.4" r="5.9" fill="#22ee22"/>
<circle cx="107.0" cy="1042.9" r="5.1" fill="none" stroke="#ff2a08" stroke-width="1.7"/>
<path d="M127.0 1037.7L132.6 1048.2L121.4 1048.2Z" fill="none" stroke="#a01a0a" stroke-width="1.6" stroke-linejoin="round"/>
<rect x="125.0" y="1037.7" width="10.4" height="10.4" fill="none" stroke="#c8200e" stroke-width="1.7" rx="0.8"/>
<circle cx="133.4" cy="1042.9" r="5.1" fill="none" stroke="#ff2a08" stroke-width="1.7"/>
<path d="M136.6 1037.3L142.2 1042.9L136.6 1048.5L131.0 1042.9Z" fill="none" stroke="#9a180a" stroke-width="1.6" stroke-linejoin="round"/>
<rect x="134.6" y="1037.7" width="10.4" height="10.4" fill="none" stroke="#c8200e" stroke-width="1.7" rx="0.8"/>
<circle cx="143.0" cy="1042.9" r="5.1" fill="none" stroke="#ff2a08" stroke-width="1.7"/>
<path d="M146.2 1037.7L151.8 1048.2L140.6 1048.2Z" fill="none" stroke="#a01a0a" stroke-width="1.6" stroke-linejoin="round"/>
<path d="M149.4 1037.3L155.0 1042.9L149.4 1048.5L143.8 1042.9Z" fill="none" stroke="#9a180a" stroke-width="1.6" stroke-linejoin="round"/>
<rect x="147.4" y="1037.7" width="10.4" height="10.4" fill="none" stroke="#c8200e" stroke-width="1.7" rx="0.8"/>
<circle cx="155.8" cy="1042.9" r="5.1" fill="none" stroke="#ff2a08" stroke-width="1.7"/>
<path d="M159.0 1037.7L164.6 1048.2L153.4 1048.2Z" fill="none" stroke="#a01a0a" stroke-width="1.6" stroke-linejoin="round"/>
<rect x="157.0" y="1037.7" width="10.4" height="10.4" fill="none" stroke="#c8200e" stroke-width="1.7" rx="0.8"/>
<circle cx="165.4" cy="1042.9" r="5.1" fill="none" stroke="#ff2a08" stroke-width="1.7"/>
<path d="M168.6 1037.3L174.2 1042.9L168.6 1048.5L163.0 1042.9Z" fill="none" stroke="#9a180a" stroke-width="1.6" stroke-linejoin="round"/>
<rect x="166.6" y="1037.7" width="10.4" height="10.4" fill="none" stroke="#c8200e" stroke-width="1.7" rx="0.8"/>
<circle cx="175.0" cy="1042.9" r="5.1" fill="none" stroke="#ff2a08" stroke-width="1.7"/>
<path d="M178.2 1037.7L183.8 1048.2L172.6 1048.2Z" fill="none" stroke="#a01a0a" stroke-width="1.6" stroke-linejoin="round"/>
<path d="M181.4 1037.3L187.0 1042.9L181.4 1048.5L175.8 1042.9Z" fill="none" stroke="#9a180a" stroke-width="1.6" stroke-linejoin="round"/>
<rect x="179.4" y="1037.7" width="10.4" height="10.4" fill="none" stroke="#c8200e" stroke-width="1.7" rx="0.8"/>
<circle cx="187.8" cy="1042.9" r="5.1" fill="none" stroke="#ff2a08" stroke-width="1.7"/>
<path d="M191.0 1037.7L196.6 1048.2L185.4 1048.2Z" fill="none" stroke="#a01a0a" stroke-width="1.6" stroke-linejoin="round"/>
<rect x="189.0" y="1037.7" width="10.4" height="10.4" fill="none" stroke="#c8200e" stroke-width="1.7" rx="0.8"/>
<circle cx="197.4" cy="1042.9" r="5.1" fill="none" stroke="#ff2a08" stroke-width="1.7"/>
<path d="M200.6 1037.3L206.2 1042.9L200.6 1048.5L195.0 1042.9Z" fill="none" stroke="#9a180a" stroke-width="1.6" stroke-linejoin="round"/>
<rect x="198.6" y="1037.7" width="10.4" height="10.4" fill="none" stroke="#c8200e" stroke-width="1.7" rx="0.8"/>
<circle cx="207.0" cy="1042.9" r="5.1" fill="none" stroke="#ff2a08" stroke-width="1.7"/>
<circle cx="219.0" cy="1042.9" r="5.1" fill="none" stroke="#ff2a08" stroke-width="1.7"/>
<path d="M225.0 1037.3L230.6 1042.9L225.0 1048.5L219.4 1042.9Z" fill="none" stroke="#9a180a" stroke-width="1.6" stroke-linejoin="round"/>
<circle cx="230.0" cy="1042.9" r="5.1" fill="none" stroke="#ff2a08" stroke-width="1.7"/>
<rect x="230.8" y="1037.7" width="10.4" height="10.4" fill="none" stroke="#c8200e" stroke-width="1.7" rx="0.8"/>
<path d="M243.0 1037.3L248.6 1042.9L243.0 1048.5L237.4 1042.9Z" fill="none" stroke="#9a180a" stroke-width="1.6" stroke-linejoin="round"/>
<path d="M251.7 1037.3L257.3 1042.9L251.7 1048.5L246.1 1042.9Z" fill="none" stroke="#9a180a" stroke-width="1.6" stroke-linejoin="round"/>
<path d="M262.2 1037.7L267.8 1048.2L256.6 1048.2Z" fill="none" stroke="#a01a0a" stroke-width="1.6" stroke-linejoin="round"/>
<path d="M283.2 1037.3L288.8 1042.9L283.2 1048.5L277.6 1042.9Z" fill="none" stroke="#9a180a" stroke-width="1.6" stroke-linejoin="round"/>
<circle cx="290.0" cy="1042.9" r="5.1" fill="none" stroke="#ff2a08" stroke-width="1.7"/>
<circle cx="298.4" cy="1042.9" r="5.1" fill="none" stroke="#ff2a08" stroke-width="1.7"/>
<path d="M304.0 1037.7L309.6 1048.2L298.4 1048.2Z" fill="none" stroke="#a01a0a" stroke-width="1.6" stroke-linejoin="round"/>
<rect x="309.5" y="1037.7" width="10.4" height="10.4" fill="none" stroke="#c8200e" stroke-width="1.7" rx="0.8"/>
<path d="M328.8 1037.7L334.4 1048.2L323.2 1048.2Z" fill="none" stroke="#a01a0a" stroke-width="1.6" stroke-linejoin="round"/>
<circle cx="338.0" cy="1042.9" r="5.1" fill="none" stroke="#ff2a08" stroke-width="1.7"/>
<path d="M353.3 1037.7L358.9 1048.2L347.7 1048.2Z" fill="none" stroke="#a01a0a" stroke-width="1.6" stroke-linejoin="round"/>
<path d="M362.6 1037.3L368.2 1042.9L362.6 1048.5L357.0 1042.9Z" fill="none" stroke="#9a180a" stroke-width="1.6" stroke-linejoin="round"/>
<path d="M420.6 1037.7L426.2 1048.2L415.0 1048.2Z" fill="none" stroke="#a01a0a" stroke-width="1.6" stroke-linejoin="round"/>
<path d="M433.0 1037.7L438.6 1048.2L427.4 1048.2Z" fill="none" stroke="#a01a0a" stroke-width="1.6" stroke-linejoin="round"/>
<circle cx="568.6" cy="1042.9" r="5.1" fill="none" stroke="#ff2a08" stroke-width="1.7"/>
<path d="M221.0 1037.7L226.6 1048.2L215.4 1048.2Z" fill="none" stroke="#2a7aff" stroke-width="1.6" stroke-linejoin="round"/>
<path d="M444.5 1037.7L450.1 1048.2L438.9 1048.2Z" fill="none" stroke="#2a7aff" stroke-width="1.6" stroke-linejoin="round"/>
<circle cx="214.5" cy="1042.9" r="5.2" fill="#000"/>
<circle cx="105.3" cy="1069.5" r="5.1" fill="none" stroke="#ff2a08" stroke-width="1.7"/>
<circle cx="154.8" cy="1069.5" r="5.1" fill="none" stroke="#ff2a08" stroke-width="1.7"/>
<circle cx="177.6" cy="1069.5" r="5.1" fill="none" stroke="#ff2a08" stroke-width="1.7"/>
<circle cx="216.1" cy="1069.5" r="5.1" fill="none" stroke="#ff2a08" stroke-width="1.7"/>
<path d="M316.9 1064.3L322.5 1074.8L311.3 1074.8Z" fill="none" stroke="#a01a0a" stroke-width="1.6" stroke-linejoin="round"/>
<circle cx="340.5" cy="1069.5" r="5.1" fill="none" stroke="#ff2a08" stroke-width="1.7"/>
<circle cx="326.5" cy="1069.5" r="5.1" fill="none" stroke="#1a44ff" stroke-width="1.7"/>
<circle cx="197.3" cy="1069.5" r="5.2" fill="#000"/>
<circle cx="139.0" cy="1096.0" r="5.1" fill="none" stroke="#ff2a08" stroke-width="1.7"/>
<circle cx="190.7" cy="1096.0" r="5.1" fill="none" stroke="#ff2a08" stroke-width="1.7"/>
<path d="M263.0 1090.4L268.6 1096.0L263.0 1101.6L257.4 1096.0Z" fill="none" stroke="#9a180a" stroke-width="1.6" stroke-linejoin="round"/>
<path d="M311.2 1090.8L316.8 1101.3L305.6 1101.3Z" fill="none" stroke="#a01a0a" stroke-width="1.6" stroke-linejoin="round"/>
<rect x="307.8" y="1090.8" width="10.4" height="10.4" fill="none" stroke="#c8200e" stroke-width="1.7" rx="0.8"/>
<circle cx="317.0" cy="1096.0" r="5.1" fill="none" stroke="#ff2a08" stroke-width="1.7"/>
<path d="M340.5 1090.8L346.1 1101.3L334.9 1101.3Z" fill="none" stroke="#a01a0a" stroke-width="1.6" stroke-linejoin="round"/>
<path d="M349.3 1090.4L354.9 1096.0L349.3 1101.6L343.7 1096.0Z" fill="none" stroke="#9a180a" stroke-width="1.6" stroke-linejoin="round"/>
<circle cx="368.6" cy="1096.0" r="5.1" fill="none" stroke="#ff2a08" stroke-width="1.7"/>
<circle cx="423.6" cy="1096.0" r="5.1" fill="none" stroke="#ff2a08" stroke-width="1.7"/>
<path d="M477.5 1090.4L483.1 1096.0L477.5 1101.6L471.9 1096.0Z" fill="none" stroke="#9a180a" stroke-width="1.6" stroke-linejoin="round"/>
<circle cx="326.5" cy="1096.0" r="5.1" fill="none" stroke="#1a44ff" stroke-width="1.7"/>
<circle cx="328.7" cy="1096.0" r="5.2" fill="#000"/>
<circle cx="133.8" cy="1122.6" r="5.1" fill="none" stroke="#ff2a08" stroke-width="1.7"/>
<circle cx="168.0" cy="1122.6" r="5.1" fill="none" stroke="#ff2a08" stroke-width="1.7"/>
<circle cx="319.0" cy="1122.6" r="5.1" fill="none" stroke="#ff2a08" stroke-width="1.7"/>
<circle cx="336.2" cy="1122.6" r="5.1" fill="none" stroke="#ff2a08" stroke-width="1.7"/>
<circle cx="243.3" cy="1122.6" r="5.2" fill="#000"/>
</svg>
</body></html>
